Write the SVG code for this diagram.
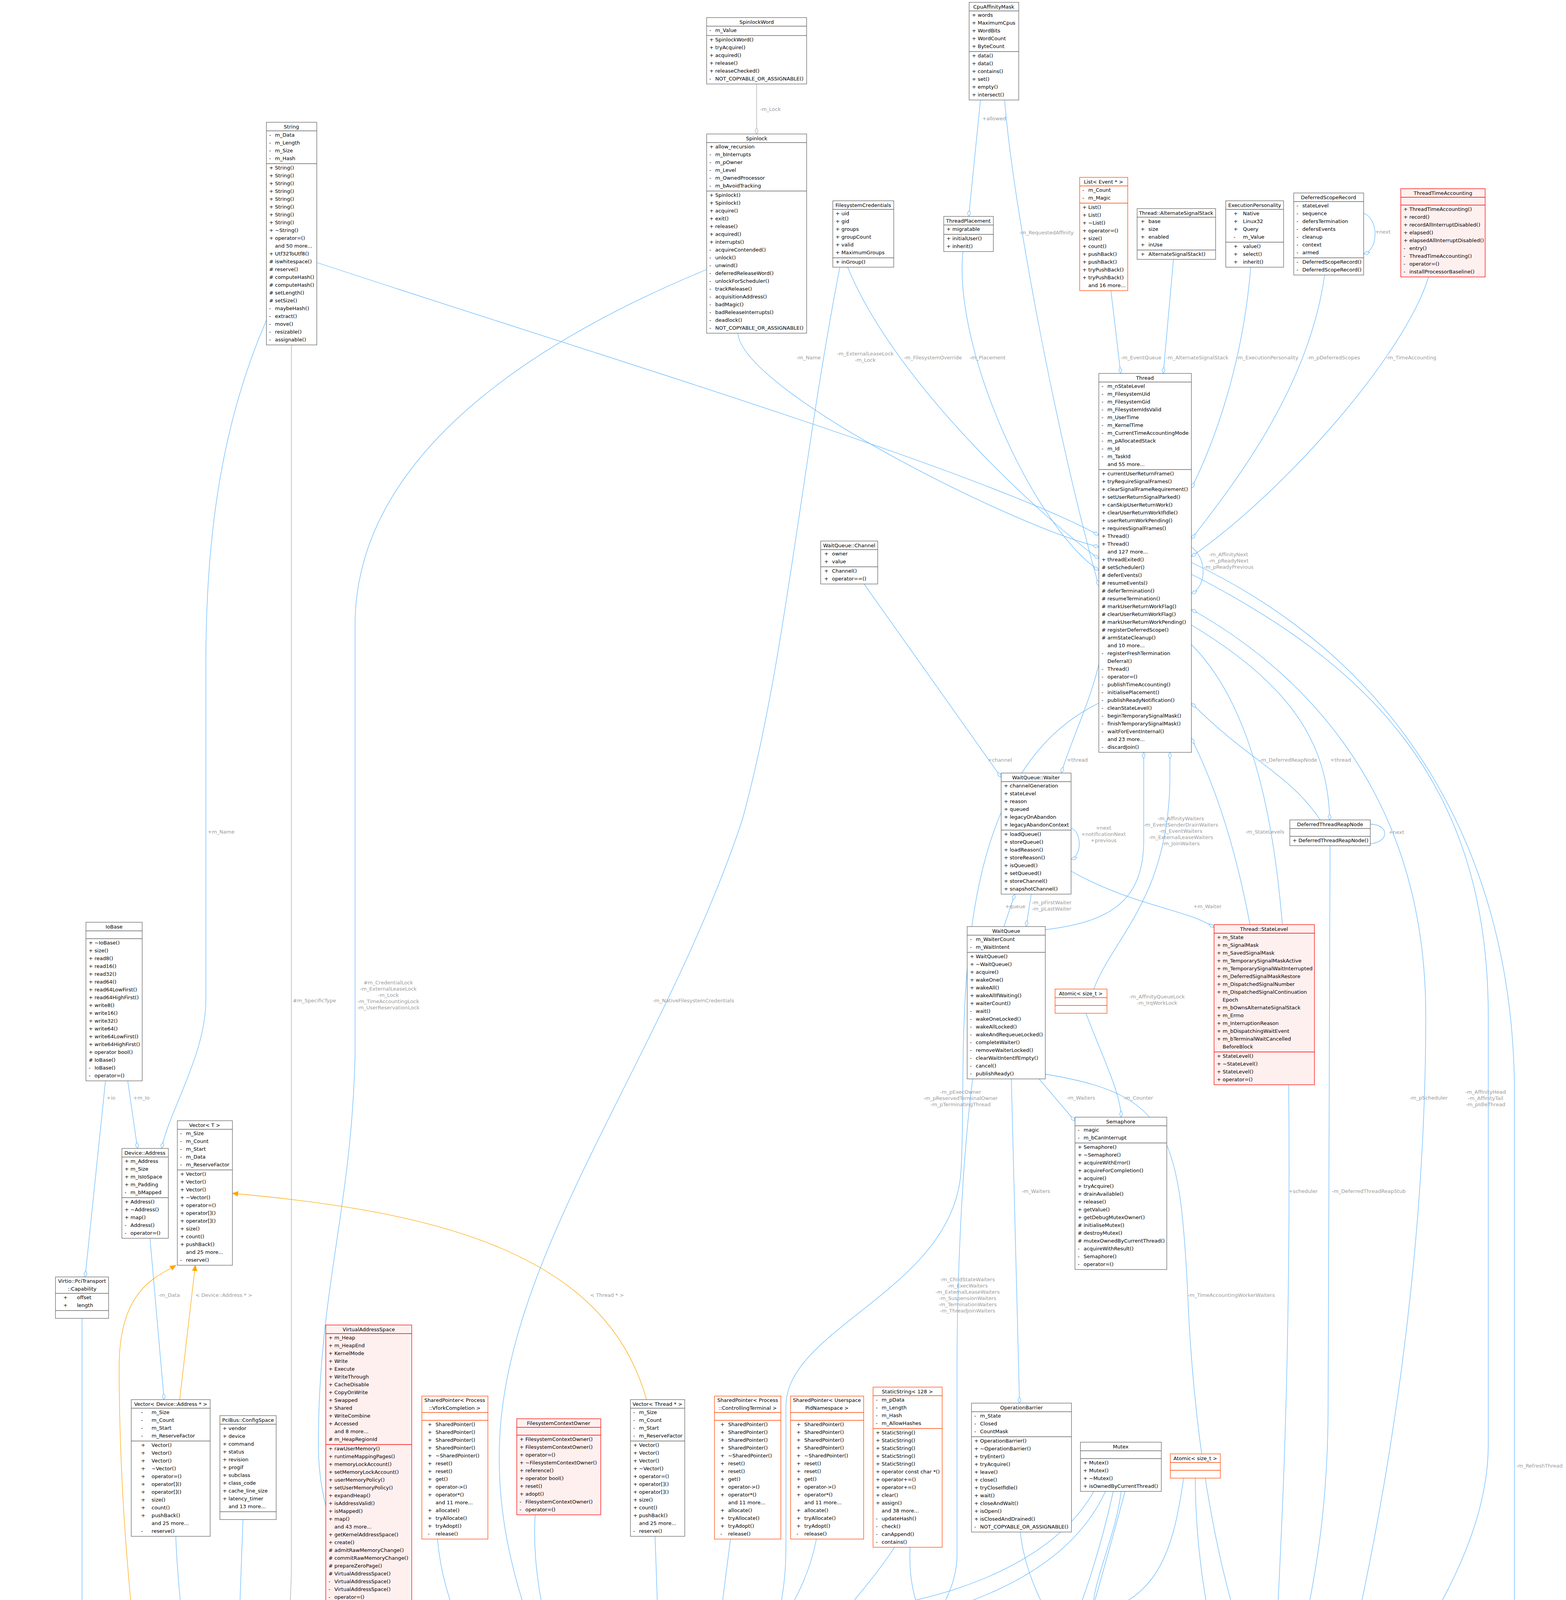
<svg xmlns="http://www.w3.org/2000/svg" width="4009" height="7372" viewBox="0 0 4009 7372">
<style>
text{font-family:"DejaVu Sans","Liberation Sans",sans-serif;font-size:13px;fill:#000}
.tt{text-anchor:middle}
.lb{fill:#9a9a9a;text-anchor:middle}
.n rect{fill:#fff;stroke:#666;stroke-width:1.3}.n path{stroke:#666;fill:none;stroke-width:1.3}
.r rect{fill:#fff0f0;stroke:#f00;stroke-width:1.3}.r path{stroke:#f00;fill:none;stroke-width:1.3}
.o rect{fill:#fff;stroke:#ff4500;stroke-width:1.3}.o path{stroke:#ff4500;fill:none;stroke-width:1.3}
.g rect{fill:#999;stroke:#666;stroke-width:1.3}.g path{stroke:#666;fill:none;stroke-width:1.3}
.e path{fill:none;stroke:#63b8ff;stroke-width:1.3;marker-end:url(#d)}
.e path.gr{stroke:#aaa;marker-end:url(#dg)}
.e path.in{marker-end:url(#t)}
.e path.or{stroke:#ffa500;marker-end:url(#oa)}
</style>
<defs>
<marker id="d" markerWidth="18" markerHeight="10" refX="17" refY="5" orient="auto" markerUnits="userSpaceOnUse"><path d="M1,5 L9,1 L17,5 L9,9 Z" fill="#fff" stroke="#63b8ff" stroke-width="1.2"/></marker>
<marker id="dg" markerWidth="18" markerHeight="10" refX="17" refY="5" orient="auto" markerUnits="userSpaceOnUse"><path d="M1,5 L9,1 L17,5 L9,9 Z" fill="#fff" stroke="#aaa" stroke-width="1.2"/></marker>
<marker id="t" markerWidth="16" markerHeight="14" refX="15" refY="7" orient="auto" markerUnits="userSpaceOnUse"><path d="M1,1 L15,7 L1,13 Z" fill="#fff" stroke="#63b8ff" stroke-width="1.2"/></marker>
<marker id="oa" markerWidth="16" markerHeight="14" refX="15" refY="7" orient="auto" markerUnits="userSpaceOnUse"><path d="M1,1 L15,7 L1,13 Z" fill="#ffa500" stroke="#ffa500" stroke-width="1.2"/></marker>
</defs>
<rect width="4009" height="7372" fill="#fff"/>

<g id="edges" class="e">
<path class="gr" d="M1937,215 L1937,343"/><text class="lb" x="1972" y="284">-m_Lock</text>
<path class="gr" d="M746,883 L746,4000 C746,4150 727,4200 727,4301"/><text class="lb" x="805" y="2566">#m_SpecificType</text>
<path d="M811,672 C1500,900 2500,1200 2813,1370"/><text class="lb" x="2070" y="920">-m_Name</text>
<path d="M682,820 C560,1100 527,1400 527,1700 L527,2560 C527,2700 430,2850 414,2940"/><text class="lb" x="566" y="2134">+m_Name</text>
<path d="M1809,690 C1300,900 909,1200 909,1600 L909,2700 C900,3100 815,3300 815,3700 C815,4200 1400,4550 1658,4690"/><text class="lb" x="994" y="2520"><tspan x="994" dy="0">#m_CredentialLock</tspan><tspan x="994" dy="16">-m_ExternalLeaseLock</tspan><tspan x="994" dy="16">-m_Lock</tspan><tspan x="994" dy="16">-m_TimeAccountingLock</tspan><tspan x="994" dy="16">-m_UserReservationLock</tspan></text>
<path d="M1889,853 C1900,1000 2600,1350 2813,1400"/><text class="lb" x="2215" y="910"><tspan x="2215">-m_ExternalLeaseLock</tspan><tspan x="2215" dy="16">-m_Lock</tspan></text>
<path d="M2170,684 C2300,1000 2700,1350 2813,1430"/><text class="lb" x="2388" y="920">-m_FilesystemOverride</text>
<path d="M2150,684 C2050,1200 2010,1700 1900,2100 C1700,2700 1300,3200 1279,3686 C1260,4100 1500,4500 1658,4650"/><text class="lb" x="1775" y="2566">-m_NativeFilesystemCredentials</text>
<path d="M2465,644 C2440,900 2650,1350 2813,1460"/><text class="lb" x="2528" y="920">-m_Placement</text>
<path d="M2510,256 L2480,554"/><text class="lb" x="2545" y="308">+allowed</text>
<path d="M2572,256 C2590,500 2700,1100 2813,1500"/><text class="lb" x="2679" y="600">-m_RequestedAffinity</text>
<path d="M2844,744 L2869,956"/><text class="lb" x="2921" y="920">-m_EventQueue</text>
<path d="M3004,664 L2978,956"/><text class="lb" x="3065" y="920">-m_AlternateSignalStack</text>
<path d="M3202,684 C3180,950 3100,1150 3050,1250"/><text class="lb" x="3244" y="920">-m_ExecutionPersonality</text>
<path d="M3391,704 C3350,1000 3150,1250 3050,1380"/><text class="lb" x="3414" y="920">-m_pDeferredScopes</text>
<path d="M3491,546 C3530,560 3530,640 3491,650"/><text class="lb" x="3540" y="598">+next</text>
<path d="M3657,709 C3600,900 3300,1250 3050,1425"/><text class="lb" x="3613" y="920">-m_TimeAccounting</text>
<path d="M3050,1400 C3090,1430 3090,1500 3050,1520"/><text class="lb" x="3145" y="1424"><tspan x="3145">-m_AffinityNext</tspan><tspan x="3145" dy="16">-m_pReadyNext</tspan><tspan x="3145" dy="16">-m_pReadyPrevious</tspan></text>
<path d="M2212,1495 L2563,1990"/><text class="lb" x="2560" y="1950">+channel</text>
<path d="M2813,1700 C2790,1800 2740,1900 2717,1979"/><text class="lb" x="2758" y="1950">+thread</text>
<path d="M3050,1600 C3300,1750 3400,1900 3404,2099"/><text class="lb" x="3432" y="1950">+thread</text>
<path d="M3380,2099 C3300,1980 3200,1950 3050,1800"/><text class="lb" x="3298" y="1950">-m_DeferredReapNode</text>
<path d="M3508,2110 C3560,2110 3560,2165 3490,2160"/><text class="lb" x="3575" y="2135">+next</text>
<path d="M2742,2120 C2770,2130 2770,2190 2742,2200"/><text class="lb" x="2825" y="2124"><tspan x="2825">+next</tspan><tspan x="2825" dy="16">+notificationNext</tspan><tspan x="2825" dy="16">+previous</tspan></text>
<path d="M2570,2372 L2598,2289"/><text class="lb" x="2599" y="2325">+queue</text>
<path d="M2640,2289 L2627,2372"/><text class="lb" x="2692" y="2315"><tspan x="2692">-m_pFirstWaiter</tspan><tspan x="2692" dy="16">-m_pLastWaiter</tspan></text>
<path d="M2676,2380 C2850,2360 2928,2300 2928,2150 L2928,1926"/><text class="lb" x="3023" y="2100"><tspan x="3023">-m_AffinityWaiters</tspan><tspan x="3023" dy="16">-m_EventSenderDrainWaiters</tspan><tspan x="3023" dy="16">-m_EventWaiters</tspan><tspan x="3023" dy="16">-m_ExternalLeaseWaiters</tspan><tspan x="3023" dy="16">-m_JoinWaiters</tspan></text>
<path d="M3200,2367 C3150,2100 3080,1950 3050,1890"/><text class="lb" x="3238" y="2134">-m_StateLevels</text>
<path d="M2742,2230 C2900,2320 3050,2330 3108,2375"/><text class="lb" x="3091" y="2325">+m_Waiter</text>
<path d="M2800,2532 C2850,2400 2990,2300 2995,2000 L2995,1926"/><text class="lb" x="2962" y="2556"><tspan x="2962">-m_AffinityQueueLock</tspan><tspan x="2962" dy="16">-m_IrqWorkLock</tspan></text>
<path d="M2660,2762 L2752,2870"/><text class="lb" x="2767" y="2815">-m_Waiters</text>
<path d="M2780,2594 C2820,2700 2870,2800 2870,2860"/><text class="lb" x="2914" y="2815">-m_Counter</text>
<path d="M2813,1800 C2400,2000 2480,2700 2460,3000 C2440,3300 2012,3400 2012,3600 L2012,3960 C2012,4150 1950,4280 1915,4320"/><text class="lb" x="2459" y="2800"><tspan x="2459">-m_pExecOwner</tspan><tspan x="2459" dy="16">-m_pReservedTerminalOwner</tspan><tspan x="2459" dy="16">-m_pTerminatingThread</tspan></text>
<path d="M2589,2762 L2610,3592"/><text class="lb" x="2652" y="3054">-m_Waiters</text>
<path d="M3050,1650 C3300,1900 3300,2500 3300,3000 C3300,3700 3270,4100 3262,4305"/><text class="lb" x="3336" y="3054">+scheduler</text>
<path d="M3405,2165 L3400,3600 C3400,4000 3320,4200 3315,4305"/><text class="lb" x="3504" y="3054">-m_DeferredThreadReapStub</text>
<path d="M3440,4305 C3560,3800 3650,3200 3650,2600 C3650,2000 3300,1700 3050,1560"/><text class="lb" x="3657" y="2815">-m_pScheduler</text>
<path d="M3050,1470 C3500,1700 3810,2000 3810,2600 L3810,3700 C3810,4000 3560,4300 3482,4420"/><text class="lb" x="3803" y="2800"><tspan x="3803">-m_AffinityHead</tspan><tspan x="3803" dy="16">-m_AffinityTail</tspan><tspan x="3803" dy="16">-m_pIdleThread</tspan></text>
<path d="M2490,2762 C2460,3000 2450,3300 2450,3500 L2450,3980 C2450,4200 2100,4450 1915,4560"/><text class="lb" x="2477" y="3280"><tspan x="2477">-m_ChildStateWaiters</tspan><tspan x="2477" dy="16">-m_ExecWaiters</tspan><tspan x="2477" dy="16">-m_ExternalLeaseWaiters</tspan><tspan x="2477" dy="16">-m_SuspensionWaiters</tspan><tspan x="2477" dy="16">-m_TerminationWaiters</tspan><tspan x="2477" dy="16">-m_ThreadJoinWaiters</tspan></text>
<path d="M2676,2750 C2990,2800 3020,2900 3040,3300 C3060,3800 3150,4150 3225,4305"/><text class="lb" x="3152" y="3320">-m_TimeAccountingWorkerWaiters</text>
<path d="M270,2767 L218,3269"/><text class="lb" x="284" y="2815">+io</text>
<path d="M327,2767 L352,2940"/><text class="lb" x="362" y="2815">+m_Io</text>
<path d="M384,3170 L420,3583"/><text class="lb" x="433" y="3320">-m_Data</text>
<path class="or" d="M460,3583 L500,3239"/><text class="lb" x="573" y="3320">&lt; Device::Address * &gt;</text>
<path class="or" d="M1655,3583 C1550,3200 1100,3100 595,3055"/><text class="lb" x="1554" y="3320">&lt; Thread * &gt;</text>
<path class="or" d="M517,5515 C480,5000 305,4300 305,3500 C305,3300 400,3270 450,3239"/><text class="lb" x="378" y="4187">&lt; Device * &gt;</text>
<path d="M1677,3933 L1688,4254"/><text class="lb" x="1731" y="4187">-m_Threads</text>
<path d="M1870,3940 L1830,4254"/><text class="lb" x="1864" y="4187">-m_Ctty</text>
<path d="M2090,3940 C2060,4100 1950,4230 1900,4254"/><text class="lb" x="1995" y="4170">-m_UserspacePidNamespace</text>
<path d="M2800,3818 C2700,4000 2400,4133 2000,4133 L1700,4133 C1650,4150 1650,4200 1655,4254"/><text class="lb" x="1620" y="4187">#m_TreeLock</text>
<path d="M2830,3818 C2700,4100 2300,4150 2100,4200 C2000,4230 1950,4300 1915,4340"/><text class="lb" x="2522" y="4187">-m_FilesystemContextLock</text>
<path d="M2870,3818 C2850,4000 2700,4200 2900,4220 C3100,4240 3180,4500 3219,4580"/><text class="lb" x="2826" y="4187">-m_NewThreadDataLock</text>
<path d="M2850,3818 C2700,4500 2300,4900 2100,5100 C2050,5200 2040,5350 2040,5466"/><text class="lb" x="2064" y="5226">-m_Lock</text>
<path d="M2880,3818 C2700,4500 2500,5000 2500,5600 C2500,6200 2420,6700 2385,6900"/><text class="lb" x="2547" y="5691">-m_CommandLock</text>
<path d="M920,4122 C1100,4400 1500,4600 1658,4670"/><text class="lb" x="1029" y="4168"><tspan x="1029">-m_pAddressSpace</tspan><tspan x="1029" dy="16">-m_pVforkPrivateAddress</tspan><tspan x="1029" dy="16">Space</tspan></text>
<path d="M1120,3940 C1150,4300 1500,4650 1658,4700"/><text class="lb" x="1216" y="4187">-m_VforkCompletion</text>
<path d="M1370,3878 C1350,4200 1550,4600 1658,4730"/><text class="lb" x="1426" y="4187">-m_FilesystemContext</text>
<path d="M450,3933 C460,4200 520,4500 550,4520"/><text class="lb" x="550" y="4187">#m_Addresses</text>
<path d="M622,3890 L607,4301"/><text class="lb" x="669" y="4187">#m_ConfigHeader</text>
<path d="M210,3375 L210,4500 C212,5000 280,5300 288,5396"/><text class="lb" x="266" y="4170"><tspan x="266">-m_Common</tspan><tspan x="266" dy="16">-m_DeviceConfig</tspan><tspan x="266" dy="16">-m_Isr</tspan><tspan x="266" dy="16">-m_Notify</tspan></text>
<path d="M804,4750 C840,4770 840,4880 804,4900"/><text class="lb" x="870" y="4716"><tspan x="870">#m_Root</tspan><tspan x="870" dy="16">#m_pParent</tspan></text>
<path class="in" d="M2283,5556 C2283,5350 2150,5220 1950,5210 C1600,5200 1100,5000 804,4820"/>
<path d="M80,4818 C90,5200 200,5450 231,5560"/><text class="lb" x="150" y="5226">-m_Original</text>
<path d="M550,5000 C500,5200 450,5350 400,5420"/><text class="lb" x="518" y="5226">-m_Device</text>
<path d="M555,5515 C560,5350 567,5250 567,5171"/><text class="lb" x="606" y="5226">#m_Children</text>
<path d="M656,5171 C650,5300 605,5450 598,5515"/><text class="lb" x="684" y="5226">-m_Data</text>
<path d="M380,5986 C450,6100 600,6180 800,6200 C1200,6250 1600,6400 1797,6460"/><text class="lb" x="904" y="6170">-m_Transport</text>
<path d="M1797,6490 C1400,6420 700,6350 500,6200 C430,6130 390,6050 383,5986"/><text class="lb" x="611" y="6170">-m_Queues</text>
<path d="M375,5986 C600,6500 1200,6900 2197,7110"/><text class="lb" x="1335" y="6478">-m_Transport</text>
<path d="M1990,5916 L1912,6214"/><text class="lb" x="1975" y="6150"><tspan x="1975">-m_Available</tspan><tspan x="1975" dy="16">-m_Descriptor</tspan><tspan x="1975" dy="16">-m_Used</tspan></text>
<path d="M1885,6744 C1920,6900 2100,7000 2197,7066"/><text class="lb" x="1990" y="6772">-m_ControlQueue</text>
<path d="M2040,5916 L2045,6600 C2060,6800 2150,6930 2197,6980"/><text class="lb" x="2110" y="6460"><tspan x="2110">-m_Backing</tspan><tspan x="2110" dy="16">-m_Commands</tspan><tspan x="2110" dy="16">-m_Pixels</tspan></text>
<path d="M2267,4788 L2267,5556"/><text class="lb" x="2303" y="5226">+PACKED</text>
<path d="M2728,4808 L2728,5256"/><text class="lb" x="2787" y="5226">-m_StoredMode</text>
<path d="M2809,5600 C2840,5620 2840,5700 2809,5710"/><text class="lb" x="2876" y="5691">+m_pParent</text>
<path d="M2650,6080 C2600,6150 2500,6250 2437,6367"/><text class="lb" x="2659" y="6170">+pFramebuffer</text>
<path d="M2260,5822 C2270,6100 2290,6300 2314,6367"/><text class="lb" x="2311" y="6170">+pDisplay</text>
<path class="in" d="M2706,6405 L2711,6126"/>
<path class="in" d="M2250,6801 C2240,6400 2256,6000 2256,5822"/>
<path d="M804,4660 C1200,4400 1900,4200 2050,4400 C2150,4600 2170,5000 2170,5500 C2180,6200 2230,6600 2240,6801"/><text class="lb" x="2215" y="6170">-m_Pci</text>
<path d="M2340,6593 L2318,6801"/><text class="lb" x="2368" y="6772">-m_Provider</text>
<path d="M2660,6551 C2550,6700 2450,6850 2385,6950"/><text class="lb" x="2579" y="6772">-m_Framebuffer</text>
<path d="M2385,7040 C2600,6900 2707,6700 2707,6551"/><text class="lb" x="2701" y="6772">-m_Gpu</text>
<path d="M2612,3922 C2650,4300 3200,4600 3200,5300 C3150,5900 2850,6250 2772,6405"/><text class="lb" x="3203" y="5226">-m_Callbacks</text>
<path d="M3050,1440 C3600,1700 3877,2200 3877,2800 L3877,6500 C3877,6800 2800,7000 2385,7108"/><text class="lb" x="3941" y="3757">-m_RefreshThread</text>
<path d="M3030,3784 C3000,4000 2950,4140 2700,4140 L2100,4140 C1980,4140 1940,4260 1915,4290"/><text class="lb" x="2991" y="4187">-m_NextTid</text>
<path d="M3060,3784 C3060,4100 3150,4400 3219,4520"/><text class="lb" x="3164" y="4150"><tspan x="3164">-m_AffinityRequests</tspan><tspan x="3164" dy="16">-m_DeferredThreadReapPublication</tspan><tspan x="3164" dy="16">State</tspan><tspan x="3164" dy="16">-m_IrqWorkDoorbell</tspan><tspan x="3164" dy="16">-m_StopTimeAccountingWorker</tspan><tspan x="3164" dy="16">-m_nDeferredThreadReaps</tspan></text>
<path d="M2290,3961 C2200,4100 2000,4300 1915,4400"/><text class="lb" x="2142" y="4187">-str</text>
<path d="M2330,3961 C2320,4150 2400,4400 3219,4600"/><text class="lb" x="2308" y="4175"><tspan x="2308">-m_DeferredThreadReaps</tspan><tspan x="2308" dy="16">-m_TimeAccountingReports</tspan></text>
</g>

<g id="n-SpinlockWord" class="n"><rect x="1809" y="45" width="256" height="170"/><path d="M1809,67h256M1809,91h256"/><text class="tt" x="1937" y="61">SpinlockWord</text>
<text y="62"><tspan x="1816" dy="20">-</tspan><tspan x="1831">m_Value</tspan></text>
<text y="86"><tspan x="1816" dy="20">+</tspan><tspan x="1831">SpinlockWord()</tspan><tspan x="1816" dy="20">+</tspan><tspan x="1831">tryAcquire()</tspan><tspan x="1816" dy="20">+</tspan><tspan x="1831">acquired()</tspan><tspan x="1816" dy="20">+</tspan><tspan x="1831">release()</tspan><tspan x="1816" dy="20">+</tspan><tspan x="1831">releaseChecked()</tspan><tspan x="1816" dy="20">-</tspan><tspan x="1831">NOT_COPYABLE_OR_ASSIGNABLE()</tspan></text></g>

<g id="n-Spinlock" class="n"><rect x="1809" y="343" width="256" height="510"/><path d="M1809,365h256M1809,489h256"/><text class="tt" x="1937" y="359">Spinlock</text>
<text y="360"><tspan x="1816" dy="20">+</tspan><tspan x="1831">allow_recursion</tspan><tspan x="1816" dy="20">-</tspan><tspan x="1831">m_bInterrupts</tspan><tspan x="1816" dy="20">-</tspan><tspan x="1831">m_pOwner</tspan><tspan x="1816" dy="20">-</tspan><tspan x="1831">m_Level</tspan><tspan x="1816" dy="20">-</tspan><tspan x="1831">m_OwnedProcessor</tspan><tspan x="1816" dy="20">-</tspan><tspan x="1831">m_bAvoidTracking</tspan></text>
<text y="484"><tspan x="1816" dy="20">+</tspan><tspan x="1831">Spinlock()</tspan><tspan x="1816" dy="20">+</tspan><tspan x="1831">Spinlock()</tspan><tspan x="1816" dy="20">+</tspan><tspan x="1831">acquire()</tspan><tspan x="1816" dy="20">+</tspan><tspan x="1831">exit()</tspan><tspan x="1816" dy="20">+</tspan><tspan x="1831">release()</tspan><tspan x="1816" dy="20">+</tspan><tspan x="1831">acquired()</tspan><tspan x="1816" dy="20">+</tspan><tspan x="1831">interrupts()</tspan><tspan x="1816" dy="20">-</tspan><tspan x="1831">acquireContended()</tspan><tspan x="1816" dy="20">-</tspan><tspan x="1831">unlock()</tspan><tspan x="1816" dy="20">-</tspan><tspan x="1831">unwind()</tspan><tspan x="1816" dy="20">-</tspan><tspan x="1831">deferredReleaseWord()</tspan><tspan x="1816" dy="20">-</tspan><tspan x="1831">unlockForScheduler()</tspan><tspan x="1816" dy="20">-</tspan><tspan x="1831">trackRelease()</tspan><tspan x="1816" dy="20">-</tspan><tspan x="1831">acquisitionAddress()</tspan><tspan x="1816" dy="20">-</tspan><tspan x="1831">badMagic()</tspan><tspan x="1816" dy="20">-</tspan><tspan x="1831">badReleaseInterrupts()</tspan><tspan x="1816" dy="20">-</tspan><tspan x="1831">deadlock()</tspan><tspan x="1816" dy="20">-</tspan><tspan x="1831">NOT_COPYABLE_OR_ASSIGNABLE()</tspan></text></g>

<g id="n-String" class="n"><rect x="682" y="313" width="129" height="570"/><path d="M682,335h129M682,419h129"/><text class="tt" x="746" y="329">String</text>
<text y="330"><tspan x="689" dy="20">-</tspan><tspan x="704">m_Data</tspan><tspan x="689" dy="20">-</tspan><tspan x="704">m_Length</tspan><tspan x="689" dy="20">-</tspan><tspan x="704">m_Size</tspan><tspan x="689" dy="20">-</tspan><tspan x="704">m_Hash</tspan></text>
<text y="414"><tspan x="689" dy="20">+</tspan><tspan x="704">String()</tspan><tspan x="689" dy="20">+</tspan><tspan x="704">String()</tspan><tspan x="689" dy="20">+</tspan><tspan x="704">String()</tspan><tspan x="689" dy="20">+</tspan><tspan x="704">String()</tspan><tspan x="689" dy="20">+</tspan><tspan x="704">String()</tspan><tspan x="689" dy="20">+</tspan><tspan x="704">String()</tspan><tspan x="689" dy="20">+</tspan><tspan x="704">String()</tspan><tspan x="689" dy="20">+</tspan><tspan x="704">String()</tspan><tspan x="689" dy="20">+</tspan><tspan x="704">~String()</tspan><tspan x="689" dy="20">+</tspan><tspan x="704">operator=()</tspan><tspan x="704" dy="20">and 50 more...</tspan><tspan x="689" dy="20">+</tspan><tspan x="704">Utf32ToUtf8()</tspan><tspan x="689" dy="20">#</tspan><tspan x="704">iswhitespace()</tspan><tspan x="689" dy="20">#</tspan><tspan x="704">reserve()</tspan><tspan x="689" dy="20">#</tspan><tspan x="704">computeHash()</tspan><tspan x="689" dy="20">#</tspan><tspan x="704">computeHash()</tspan><tspan x="689" dy="20">#</tspan><tspan x="704">setLength()</tspan><tspan x="689" dy="20">#</tspan><tspan x="704">setSize()</tspan><tspan x="689" dy="20">-</tspan><tspan x="704">maybeHash()</tspan><tspan x="689" dy="20">-</tspan><tspan x="704">extract()</tspan><tspan x="689" dy="20">-</tspan><tspan x="704">move()</tspan><tspan x="689" dy="20">-</tspan><tspan x="704">resizable()</tspan><tspan x="689" dy="20">-</tspan><tspan x="704">assignable()</tspan></text></g>

<g id="n-CpuAffinityMask" class="n"><rect x="2481" y="6" width="127" height="250"/><path d="M2481,28h127M2481,132h127"/><text class="tt" x="2544" y="22">CpuAffinityMask</text>
<text y="23"><tspan x="2488" dy="20">+</tspan><tspan x="2503">words</tspan><tspan x="2488" dy="20">+</tspan><tspan x="2503">MaximumCpus</tspan><tspan x="2488" dy="20">+</tspan><tspan x="2503">WordBits</tspan><tspan x="2488" dy="20">+</tspan><tspan x="2503">WordCount</tspan><tspan x="2488" dy="20">+</tspan><tspan x="2503">ByteCount</tspan></text>
<text y="127"><tspan x="2488" dy="20">+</tspan><tspan x="2503">data()</tspan><tspan x="2488" dy="20">+</tspan><tspan x="2503">data()</tspan><tspan x="2488" dy="20">+</tspan><tspan x="2503">contains()</tspan><tspan x="2488" dy="20">+</tspan><tspan x="2503">set()</tspan><tspan x="2488" dy="20">+</tspan><tspan x="2503">empty()</tspan><tspan x="2488" dy="20">+</tspan><tspan x="2503">intersect()</tspan></text></g>

<g id="n-FilesystemCredentials" class="n"><rect x="2132" y="514" width="156" height="170"/><path d="M2132,536h156M2132,660h156"/><text class="tt" x="2210" y="530">FilesystemCredentials</text>
<text y="531"><tspan x="2139" dy="20">+</tspan><tspan x="2154">uid</tspan><tspan x="2139" dy="20">+</tspan><tspan x="2154">gid</tspan><tspan x="2139" dy="20">+</tspan><tspan x="2154">groups</tspan><tspan x="2139" dy="20">+</tspan><tspan x="2154">groupCount</tspan><tspan x="2139" dy="20">+</tspan><tspan x="2154">valid</tspan><tspan x="2139" dy="20">+</tspan><tspan x="2154">MaximumGroups</tspan></text>
<text y="655"><tspan x="2139" dy="20">+</tspan><tspan x="2154">inGroup()</tspan></text></g>

<g id="n-ThreadPlacement" class="n"><rect x="2416" y="554" width="127" height="90"/><path d="M2416,576h127M2416,600h127"/><text class="tt" x="2479" y="570">ThreadPlacement</text>
<text y="571"><tspan x="2423" dy="20">+</tspan><tspan x="2438">migratable</tspan></text>
<text y="595"><tspan x="2423" dy="20">+</tspan><tspan x="2438">initialUser()</tspan><tspan x="2423" dy="20">+</tspan><tspan x="2438">inherit()</tspan></text></g>

<g id="n-ListEvent" class="o"><rect x="2764" y="454" width="123" height="290"/><path d="M2764,476h123M2764,520h123"/><text class="tt" x="2825" y="470">List&lt; Event * &gt;</text>
<text y="471"><tspan x="2771" dy="20">-</tspan><tspan x="2786">m_Count</tspan><tspan x="2771" dy="20">-</tspan><tspan x="2786">m_Magic</tspan></text>
<text y="515"><tspan x="2771" dy="20">+</tspan><tspan x="2786">List()</tspan><tspan x="2771" dy="20">+</tspan><tspan x="2786">List()</tspan><tspan x="2771" dy="20">+</tspan><tspan x="2786">~List()</tspan><tspan x="2771" dy="20">+</tspan><tspan x="2786">operator=()</tspan><tspan x="2771" dy="20">+</tspan><tspan x="2786">size()</tspan><tspan x="2771" dy="20">+</tspan><tspan x="2786">count()</tspan><tspan x="2771" dy="20">+</tspan><tspan x="2786">pushBack()</tspan><tspan x="2771" dy="20">+</tspan><tspan x="2786">pushBack()</tspan><tspan x="2771" dy="20">+</tspan><tspan x="2786">tryPushBack()</tspan><tspan x="2771" dy="20">+</tspan><tspan x="2786">tryPushBack()</tspan><tspan x="2786" dy="20">and 16 more...</tspan></text></g>

<g id="n-AlternateSignalStack" class="n"><rect x="2911" y="534" width="201" height="130"/><path d="M2911,556h201M2911,640h201"/><text class="tt" x="3011" y="550">Thread::AlternateSignalStack</text>
<text y="551"><tspan x="2920" dy="20">+</tspan><tspan x="2940">base</tspan><tspan x="2920" dy="20">+</tspan><tspan x="2940">size</tspan><tspan x="2920" dy="20">+</tspan><tspan x="2940">enabled</tspan><tspan x="2920" dy="20">+</tspan><tspan x="2940">inUse</tspan></text>
<text y="635"><tspan x="2920" dy="20">+</tspan><tspan x="2940">AlternateSignalStack()</tspan></text></g>

<g id="n-ExecutionPersonality" class="n"><rect x="3138" y="514" width="148" height="170"/><path d="M3138,536h148M3138,620h148"/><text class="tt" x="3212" y="530">ExecutionPersonality</text>
<text y="531"><tspan x="3158" dy="20">+</tspan><tspan x="3182">Native</tspan><tspan x="3158" dy="20">+</tspan><tspan x="3182">Linux32</tspan><tspan x="3158" dy="20">+</tspan><tspan x="3182">Query</tspan><tspan x="3158" dy="20">-</tspan><tspan x="3182">m_Value</tspan></text>
<text y="615"><tspan x="3158" dy="20">+</tspan><tspan x="3182">value()</tspan><tspan x="3158" dy="20">+</tspan><tspan x="3182">select()</tspan><tspan x="3158" dy="20">+</tspan><tspan x="3182">inherit()</tspan></text></g>

<g id="n-DeferredScopeRecord" class="n"><rect x="3312" y="494" width="179" height="210"/><path d="M3312,516h179M3312,660h179"/><text class="tt" x="3401" y="510">DeferredScopeRecord</text>
<text y="511"><tspan x="3319" dy="20">-</tspan><tspan x="3334">stateLevel</tspan><tspan x="3319" dy="20">-</tspan><tspan x="3334">sequence</tspan><tspan x="3319" dy="20">-</tspan><tspan x="3334">defersTermination</tspan><tspan x="3319" dy="20">-</tspan><tspan x="3334">defersEvents</tspan><tspan x="3319" dy="20">-</tspan><tspan x="3334">cleanup</tspan><tspan x="3319" dy="20">-</tspan><tspan x="3334">context</tspan><tspan x="3319" dy="20">-</tspan><tspan x="3334">armed</tspan></text>
<text y="655"><tspan x="3319" dy="20">-</tspan><tspan x="3334">DeferredScopeRecord()</tspan><tspan x="3319" dy="20">-</tspan><tspan x="3334">DeferredScopeRecord()</tspan></text></g>

<g id="n-ThreadTimeAccounting" class="r"><rect x="3586" y="483" width="216" height="226"/><path d="M3586,505h216M3586,525h216"/><text class="tt" x="3694" y="499">ThreadTimeAccounting</text>
<text y="520"><tspan x="3593" dy="20">+</tspan><tspan x="3608">ThreadTimeAccounting()</tspan><tspan x="3593" dy="20">+</tspan><tspan x="3608">record()</tspan><tspan x="3593" dy="20">+</tspan><tspan x="3608">recordAllInterruptDisabled()</tspan><tspan x="3593" dy="20">+</tspan><tspan x="3608">elapsed()</tspan><tspan x="3593" dy="20">+</tspan><tspan x="3608">elapsedAllInterruptDisabled()</tspan><tspan x="3593" dy="20">-</tspan><tspan x="3608">entry()</tspan><tspan x="3593" dy="20">-</tspan><tspan x="3608">ThreadTimeAccounting()</tspan><tspan x="3593" dy="20">-</tspan><tspan x="3608">operator=()</tspan><tspan x="3593" dy="20">-</tspan><tspan x="3608">installProcessorBaseline()</tspan></text></g>

<g id="n-WaitQueueChannel" class="n"><rect x="2101" y="1385" width="146" height="110"/><path d="M2101,1407h146M2101,1451h146"/><text class="tt" x="2174" y="1401">WaitQueue::Channel</text>
<text y="1402"><tspan x="2110" dy="20">+</tspan><tspan x="2130">owner</tspan><tspan x="2110" dy="20">+</tspan><tspan x="2130">value</tspan></text>
<text y="1446"><tspan x="2110" dy="20">+</tspan><tspan x="2130">Channel()</tspan><tspan x="2110" dy="20">+</tspan><tspan x="2130">operator==()</tspan></text></g>

<g id="n-Thread" class="n"><rect x="2813" y="956" width="237" height="970"/><path d="M2813,978h237M2813,1202h237"/><text class="tt" x="2931" y="972">Thread</text>
<text y="973"><tspan x="2820" dy="20">-</tspan><tspan x="2835">m_nStateLevel</tspan><tspan x="2820" dy="20">-</tspan><tspan x="2835">m_FilesystemUid</tspan><tspan x="2820" dy="20">-</tspan><tspan x="2835">m_FilesystemGid</tspan><tspan x="2820" dy="20">-</tspan><tspan x="2835">m_FilesystemIdsValid</tspan><tspan x="2820" dy="20">-</tspan><tspan x="2835">m_UserTime</tspan><tspan x="2820" dy="20">-</tspan><tspan x="2835">m_KernelTime</tspan><tspan x="2820" dy="20">-</tspan><tspan x="2835">m_CurrentTimeAccountingMode</tspan><tspan x="2820" dy="20">-</tspan><tspan x="2835">m_pAllocatedStack</tspan><tspan x="2820" dy="20">-</tspan><tspan x="2835">m_Id</tspan><tspan x="2820" dy="20">-</tspan><tspan x="2835">m_TaskId</tspan><tspan x="2835" dy="20">and 55 more...</tspan></text>
<text y="1197"><tspan x="2820" dy="20">+</tspan><tspan x="2835">currentUserReturnFrame()</tspan><tspan x="2820" dy="20">+</tspan><tspan x="2835">tryRequireSignalFrames()</tspan><tspan x="2820" dy="20">+</tspan><tspan x="2835">clearSignalFrameRequirement()</tspan><tspan x="2820" dy="20">+</tspan><tspan x="2835">setUserReturnSignalParked()</tspan><tspan x="2820" dy="20">+</tspan><tspan x="2835">canSkipUserReturnWork()</tspan><tspan x="2820" dy="20">+</tspan><tspan x="2835">clearUserReturnWorkIfIdle()</tspan><tspan x="2820" dy="20">+</tspan><tspan x="2835">userReturnWorkPending()</tspan><tspan x="2820" dy="20">+</tspan><tspan x="2835">requiresSignalFrames()</tspan><tspan x="2820" dy="20">+</tspan><tspan x="2835">Thread()</tspan><tspan x="2820" dy="20">+</tspan><tspan x="2835">Thread()</tspan><tspan x="2835" dy="20">and 127 more...</tspan><tspan x="2820" dy="20">+</tspan><tspan x="2835">threadExited()</tspan><tspan x="2820" dy="20">#</tspan><tspan x="2835">setScheduler()</tspan><tspan x="2820" dy="20">#</tspan><tspan x="2835">deferEvents()</tspan><tspan x="2820" dy="20">#</tspan><tspan x="2835">resumeEvents()</tspan><tspan x="2820" dy="20">#</tspan><tspan x="2835">deferTermination()</tspan><tspan x="2820" dy="20">#</tspan><tspan x="2835">resumeTermination()</tspan><tspan x="2820" dy="20">#</tspan><tspan x="2835">markUserReturnWorkFlag()</tspan><tspan x="2820" dy="20">#</tspan><tspan x="2835">clearUserReturnWorkFlag()</tspan><tspan x="2820" dy="20">#</tspan><tspan x="2835">markUserReturnWorkPending()</tspan><tspan x="2820" dy="20">#</tspan><tspan x="2835">registerDeferredScope()</tspan><tspan x="2820" dy="20">#</tspan><tspan x="2835">armStateCleanup()</tspan><tspan x="2835" dy="20">and 10 more...</tspan><tspan x="2820" dy="20">-</tspan><tspan x="2835">registerFreshTermination</tspan><tspan x="2835" dy="20">Deferral()</tspan><tspan x="2820" dy="20">-</tspan><tspan x="2835">Thread()</tspan><tspan x="2820" dy="20">-</tspan><tspan x="2835">operator=()</tspan><tspan x="2820" dy="20">-</tspan><tspan x="2835">publishTimeAccounting()</tspan><tspan x="2820" dy="20">-</tspan><tspan x="2835">initialisePlacement()</tspan><tspan x="2820" dy="20">-</tspan><tspan x="2835">publishReadyNotification()</tspan><tspan x="2820" dy="20">-</tspan><tspan x="2835">cleanStateLevel()</tspan><tspan x="2820" dy="20">-</tspan><tspan x="2835">beginTemporarySignalMask()</tspan><tspan x="2820" dy="20">-</tspan><tspan x="2835">finishTemporarySignalMask()</tspan><tspan x="2820" dy="20">-</tspan><tspan x="2835">waitForEventInternal()</tspan><tspan x="2835" dy="20">and 23 more...</tspan><tspan x="2820" dy="20">-</tspan><tspan x="2835">discardJoin()</tspan></text></g>

<g id="n-DeferredThreadReapNode" class="n"><rect x="3302" y="2099" width="206" height="66"/><path d="M3302,2121h206M3302,2141h206"/><text class="tt" x="3405" y="2115">DeferredThreadReapNode</text>
<text y="2136"><tspan x="3309" dy="20">+</tspan><tspan x="3324">DeferredThreadReapNode()</tspan></text></g>

<g id="n-WaitQueueWaiter" class="n"><rect x="2563" y="1979" width="179" height="310"/><path d="M2563,2001h179M2563,2125h179"/><text class="tt" x="2652" y="1995">WaitQueue::Waiter</text>
<text y="1996"><tspan x="2570" dy="20">+</tspan><tspan x="2585">channelGeneration</tspan><tspan x="2570" dy="20">+</tspan><tspan x="2585">stateLevel</tspan><tspan x="2570" dy="20">+</tspan><tspan x="2585">reason</tspan><tspan x="2570" dy="20">+</tspan><tspan x="2585">queued</tspan><tspan x="2570" dy="20">+</tspan><tspan x="2585">legacyOnAbandon</tspan><tspan x="2570" dy="20">+</tspan><tspan x="2585">legacyAbandonContext</tspan></text>
<text y="2120"><tspan x="2570" dy="20">+</tspan><tspan x="2585">loadQueue()</tspan><tspan x="2570" dy="20">+</tspan><tspan x="2585">storeQueue()</tspan><tspan x="2570" dy="20">+</tspan><tspan x="2585">loadReason()</tspan><tspan x="2570" dy="20">+</tspan><tspan x="2585">storeReason()</tspan><tspan x="2570" dy="20">+</tspan><tspan x="2585">isQueued()</tspan><tspan x="2570" dy="20">+</tspan><tspan x="2585">setQueued()</tspan><tspan x="2570" dy="20">+</tspan><tspan x="2585">storeChannel()</tspan><tspan x="2570" dy="20">+</tspan><tspan x="2585">snapshotChannel()</tspan></text></g>

<g id="n-WaitQueue" class="n"><rect x="2476" y="2372" width="200" height="390"/><path d="M2476,2394h200M2476,2438h200"/><text class="tt" x="2576" y="2388">WaitQueue</text>
<text y="2389"><tspan x="2483" dy="20">-</tspan><tspan x="2498">m_WaiterCount</tspan><tspan x="2483" dy="20">-</tspan><tspan x="2498">m_WaitIntent</tspan></text>
<text y="2433"><tspan x="2483" dy="20">+</tspan><tspan x="2498">WaitQueue()</tspan><tspan x="2483" dy="20">+</tspan><tspan x="2498">~WaitQueue()</tspan><tspan x="2483" dy="20">+</tspan><tspan x="2498">acquire()</tspan><tspan x="2483" dy="20">+</tspan><tspan x="2498">wakeOne()</tspan><tspan x="2483" dy="20">+</tspan><tspan x="2498">wakeAll()</tspan><tspan x="2483" dy="20">+</tspan><tspan x="2498">wakeAllIfWaiting()</tspan><tspan x="2483" dy="20">+</tspan><tspan x="2498">waiterCount()</tspan><tspan x="2483" dy="20">-</tspan><tspan x="2498">wait()</tspan><tspan x="2483" dy="20">-</tspan><tspan x="2498">wakeOneLocked()</tspan><tspan x="2483" dy="20">-</tspan><tspan x="2498">wakeAllLocked()</tspan><tspan x="2483" dy="20">-</tspan><tspan x="2498">wakeAndRequeueLocked()</tspan><tspan x="2483" dy="20">-</tspan><tspan x="2498">completeWaiter()</tspan><tspan x="2483" dy="20">-</tspan><tspan x="2498">removeWaiterLocked()</tspan><tspan x="2483" dy="20">-</tspan><tspan x="2498">clearWaitIntentIfEmpty()</tspan><tspan x="2483" dy="20">-</tspan><tspan x="2498">cancel()</tspan><tspan x="2483" dy="20">-</tspan><tspan x="2498">publishReady()</tspan></text></g>

<g id="n-AtomicSize1" class="o"><rect x="2701" y="2532" width="133" height="62"/><path d="M2701,2554h133M2701,2574h133"/><text class="tt" x="2767" y="2548">Atomic&lt; size_t &gt;</text></g>

<g id="n-ThreadStateLevel" class="r"><rect x="3108" y="2367" width="257" height="410"/><path d="M3108,2389h257M3108,2693h257"/><text class="tt" x="3236" y="2383">Thread::StateLevel</text>
<text y="2384"><tspan x="3115" dy="20">+</tspan><tspan x="3130">m_State</tspan><tspan x="3115" dy="20">+</tspan><tspan x="3130">m_SignalMask</tspan><tspan x="3115" dy="20">+</tspan><tspan x="3130">m_SavedSignalMask</tspan><tspan x="3115" dy="20">+</tspan><tspan x="3130">m_TemporarySignalMaskActive</tspan><tspan x="3115" dy="20">+</tspan><tspan x="3130">m_TemporarySignalWaitInterrupted</tspan><tspan x="3115" dy="20">+</tspan><tspan x="3130">m_DeferredSignalMaskRestore</tspan><tspan x="3115" dy="20">+</tspan><tspan x="3130">m_DispatchedSignalNumber</tspan><tspan x="3115" dy="20">+</tspan><tspan x="3130">m_DispatchedSignalContinuation</tspan><tspan x="3130" dy="20">Epoch</tspan><tspan x="3115" dy="20">+</tspan><tspan x="3130">m_bOwnsAlternateSignalStack</tspan><tspan x="3115" dy="20">+</tspan><tspan x="3130">m_Errno</tspan><tspan x="3115" dy="20">+</tspan><tspan x="3130">m_InterruptionReason</tspan><tspan x="3115" dy="20">+</tspan><tspan x="3130">m_bDispatchingWaitEvent</tspan><tspan x="3115" dy="20">+</tspan><tspan x="3130">m_bTerminalWaitCancelled</tspan><tspan x="3130" dy="20">BeforeBlock</tspan></text>
<text y="2688"><tspan x="3115" dy="20">+</tspan><tspan x="3130">StateLevel()</tspan><tspan x="3115" dy="20">+</tspan><tspan x="3130">~StateLevel()</tspan><tspan x="3115" dy="20">+</tspan><tspan x="3130">StateLevel()</tspan><tspan x="3115" dy="20">+</tspan><tspan x="3130">operator=()</tspan></text></g>

<g id="n-Semaphore" class="n"><rect x="2752" y="2860" width="235" height="390"/><path d="M2752,2882h235M2752,2926h235"/><text class="tt" x="2869" y="2876">Semaphore</text>
<text y="2877"><tspan x="2759" dy="20">-</tspan><tspan x="2774">magic</tspan><tspan x="2759" dy="20">-</tspan><tspan x="2774">m_bCanInterrupt</tspan></text>
<text y="2921"><tspan x="2759" dy="20">+</tspan><tspan x="2774">Semaphore()</tspan><tspan x="2759" dy="20">+</tspan><tspan x="2774">~Semaphore()</tspan><tspan x="2759" dy="20">+</tspan><tspan x="2774">acquireWithError()</tspan><tspan x="2759" dy="20">+</tspan><tspan x="2774">acquireForCompletion()</tspan><tspan x="2759" dy="20">+</tspan><tspan x="2774">acquire()</tspan><tspan x="2759" dy="20">+</tspan><tspan x="2774">tryAcquire()</tspan><tspan x="2759" dy="20">+</tspan><tspan x="2774">drainAvailable()</tspan><tspan x="2759" dy="20">+</tspan><tspan x="2774">release()</tspan><tspan x="2759" dy="20">+</tspan><tspan x="2774">getValue()</tspan><tspan x="2759" dy="20">+</tspan><tspan x="2774">getDebugMutexOwner()</tspan><tspan x="2759" dy="20">#</tspan><tspan x="2774">initialiseMutex()</tspan><tspan x="2759" dy="20">#</tspan><tspan x="2774">destroyMutex()</tspan><tspan x="2759" dy="20">#</tspan><tspan x="2774">mutexOwnedByCurrentThread()</tspan><tspan x="2759" dy="20">-</tspan><tspan x="2774">acquireWithResult()</tspan><tspan x="2759" dy="20">-</tspan><tspan x="2774">Semaphore()</tspan><tspan x="2759" dy="20">-</tspan><tspan x="2774">operator=()</tspan></text></g>

<g id="n-SharedPointerUserspacePidNamespace" class="o"><rect x="2024" y="3574" width="187" height="366"/><path d="M2024,3616h187M2024,3636h187"/><text class="tt" x="2117" y="3589">SharedPointer&lt; Userspace</text><text class="tt" x="2117" y="3609">PidNamespace &gt;</text>
<text y="3631"><tspan x="2039" dy="20">+</tspan><tspan x="2059">SharedPointer()</tspan><tspan x="2039" dy="20">+</tspan><tspan x="2059">SharedPointer()</tspan><tspan x="2039" dy="20">+</tspan><tspan x="2059">SharedPointer()</tspan><tspan x="2039" dy="20">+</tspan><tspan x="2059">SharedPointer()</tspan><tspan x="2039" dy="20">+</tspan><tspan x="2059">~SharedPointer()</tspan><tspan x="2039" dy="20">+</tspan><tspan x="2059">reset()</tspan><tspan x="2039" dy="20">+</tspan><tspan x="2059">reset()</tspan><tspan x="2039" dy="20">+</tspan><tspan x="2059">get()</tspan><tspan x="2039" dy="20">+</tspan><tspan x="2059">operator-&gt;()</tspan><tspan x="2039" dy="20">+</tspan><tspan x="2059">operator*()</tspan><tspan x="2059" dy="20">and 11 more...</tspan><tspan x="2039" dy="20">+</tspan><tspan x="2059">allocate()</tspan><tspan x="2039" dy="20">+</tspan><tspan x="2059">tryAllocate()</tspan><tspan x="2039" dy="20">+</tspan><tspan x="2059">tryAdopt()</tspan><tspan x="2039" dy="20">-</tspan><tspan x="2059">release()</tspan></text></g>

<g id="n-StaticString128" class="o"><rect x="2235" y="3551" width="177" height="410"/><path d="M2235,3573h177M2235,3657h177"/><text class="tt" x="2323" y="3567">StaticString&lt; 128 &gt;</text>
<text y="3568"><tspan x="2242" dy="20">-</tspan><tspan x="2257">m_pData</tspan><tspan x="2242" dy="20">-</tspan><tspan x="2257">m_Length</tspan><tspan x="2242" dy="20">-</tspan><tspan x="2257">m_Hash</tspan><tspan x="2242" dy="20">-</tspan><tspan x="2257">m_AllowHashes</tspan></text>
<text y="3652"><tspan x="2242" dy="20">+</tspan><tspan x="2257">StaticString()</tspan><tspan x="2242" dy="20">+</tspan><tspan x="2257">StaticString()</tspan><tspan x="2242" dy="20">+</tspan><tspan x="2257">StaticString()</tspan><tspan x="2242" dy="20">+</tspan><tspan x="2257">StaticString()</tspan><tspan x="2242" dy="20">+</tspan><tspan x="2257">StaticString()</tspan><tspan x="2242" dy="20">+</tspan><tspan x="2257">operator const char *()</tspan><tspan x="2242" dy="20">+</tspan><tspan x="2257">operator+=()</tspan><tspan x="2242" dy="20">+</tspan><tspan x="2257">operator+=()</tspan><tspan x="2242" dy="20">+</tspan><tspan x="2257">clear()</tspan><tspan x="2242" dy="20">+</tspan><tspan x="2257">assign()</tspan><tspan x="2257" dy="20">and 38 more...</tspan><tspan x="2242" dy="20">-</tspan><tspan x="2257">updateHash()</tspan><tspan x="2242" dy="20">-</tspan><tspan x="2257">check()</tspan><tspan x="2242" dy="20">-</tspan><tspan x="2257">canAppend()</tspan><tspan x="2242" dy="20">-</tspan><tspan x="2257">contains()</tspan></text></g>

<g id="n-OperationBarrier" class="n"><rect x="2487" y="3592" width="256" height="330"/><path d="M2487,3614h256M2487,3678h256"/><text class="tt" x="2615" y="3608">OperationBarrier</text>
<text y="3609"><tspan x="2494" dy="20">-</tspan><tspan x="2509">m_State</tspan><tspan x="2494" dy="20">-</tspan><tspan x="2509">Closed</tspan><tspan x="2494" dy="20">-</tspan><tspan x="2509">CountMask</tspan></text>
<text y="3673"><tspan x="2494" dy="20">+</tspan><tspan x="2509">OperationBarrier()</tspan><tspan x="2494" dy="20">+</tspan><tspan x="2509">~OperationBarrier()</tspan><tspan x="2494" dy="20">+</tspan><tspan x="2509">tryEnter()</tspan><tspan x="2494" dy="20">+</tspan><tspan x="2509">tryAcquire()</tspan><tspan x="2494" dy="20">+</tspan><tspan x="2509">leave()</tspan><tspan x="2494" dy="20">+</tspan><tspan x="2509">close()</tspan><tspan x="2494" dy="20">+</tspan><tspan x="2509">tryCloseIfIdle()</tspan><tspan x="2494" dy="20">+</tspan><tspan x="2509">wait()</tspan><tspan x="2494" dy="20">+</tspan><tspan x="2509">closeAndWait()</tspan><tspan x="2494" dy="20">+</tspan><tspan x="2509">isOpen()</tspan><tspan x="2494" dy="20">+</tspan><tspan x="2509">isClosedAndDrained()</tspan><tspan x="2494" dy="20">-</tspan><tspan x="2509">NOT_COPYABLE_OR_ASSIGNABLE()</tspan></text></g>

<g id="n-Mutex" class="n"><rect x="2766" y="3692" width="207" height="126"/><path d="M2766,3714h207M2766,3734h207"/><text class="tt" x="2869" y="3708">Mutex</text>
<text y="3729"><tspan x="2773" dy="20">+</tspan><tspan x="2788">Mutex()</tspan><tspan x="2773" dy="20">+</tspan><tspan x="2788">Mutex()</tspan><tspan x="2773" dy="20">+</tspan><tspan x="2788">~Mutex()</tspan><tspan x="2773" dy="20">+</tspan><tspan x="2788">isOwnedByCurrentThread()</tspan></text></g>

<g id="n-AtomicSize2" class="o"><rect x="2996" y="3722" width="128" height="62"/><path d="M2996,3744h128M2996,3764h128"/><text class="tt" x="3060" y="3738">Atomic&lt; size_t &gt;</text></g>

<g id="n-PerProcessorScheduler" class="o"><rect x="3219" y="4305" width="263" height="850"/><path d="M3219,4327h263M3219,4551h263"/><text class="tt" x="3350" y="4321">PerProcessorScheduler</text>
<text y="4322"><tspan x="3226" dy="20">-</tspan><tspan x="3241">m_NewThreadAdmissionOpen</tspan><tspan x="3226" dy="20">-</tspan><tspan x="3241">m_StopNewThreadWorker</tspan><tspan x="3226" dy="20">-</tspan><tspan x="3241">m_AffinityAdmissionOpen</tspan><tspan x="3226" dy="20">-</tspan><tspan x="3241">m_LogicalCpu</tspan><tspan x="3226" dy="20">-</tspan><tspan x="3241">m_PhysicalCpu</tspan><tspan x="3226" dy="20">-</tspan><tspan x="3241">m_NominalQuantumNs</tspan><tspan x="3226" dy="20">-</tspan><tspan x="3241">m_IdleWakeRequested</tspan><tspan x="3226" dy="20">-</tspan><tspan x="3241">m_schedulerTickCounter</tspan><tspan x="3226" dy="20">-</tspan><tspan x="3241">m_UserReturnDiagnosticSequence</tspan><tspan x="3226" dy="20">-</tspan><tspan x="3241">DeferredReapPublicationClosed</tspan><tspan x="3226" dy="20">-</tspan><tspan x="3241">DeferredReapPublicationCountMask</tspan></text>
<text y="4546"><tspan x="3226" dy="20">+</tspan><tspan x="3241">PerProcessorScheduler()</tspan><tspan x="3226" dy="20">+</tspan><tspan x="3241">~PerProcessorScheduler()</tspan><tspan x="3226" dy="20">+</tspan><tspan x="3241">initialise()</tspan><tspan x="3226" dy="20">+</tspan><tspan x="3241">checkEventState()</tspan><tspan x="3226" dy="20">+</tspan><tspan x="3241">eventHandlerReturned()</tspan><tspan x="3226" dy="20">+</tspan><tspan x="3241">addThread()</tspan><tspan x="3226" dy="20">+</tspan><tspan x="3241">addThread()</tspan><tspan x="3226" dy="20">+</tspan><tspan x="3241">commitCurrentThreadExit()</tspan><tspan x="3226" dy="20">+</tspan><tspan x="3241">abandonCurrentThreadStack()</tspan><tspan x="3226" dy="20">+</tspan><tspan x="3241">requestCurrentThreadExit</tspan><tspan x="3241" dy="20">ToIdle()</tspan><tspan x="3241" dy="20">and 18 more...</tspan><tspan x="3226" dy="20">+</tspan><tspan x="3241">stackDiscardCount()</tspan><tspan x="3226" dy="20">+</tspan><tspan x="3241">stackDiscardCount()</tspan><tspan x="3226" dy="20">-</tspan><tspan x="3241">killCurrentThread()</tspan><tspan x="3226" dy="20">-</tspan><tspan x="3241">schedule()</tspan><tspan x="3226" dy="20">-</tspan><tspan x="3241">scheduleWithInterruptState()</tspan><tspan x="3226" dy="20">-</tspan><tspan x="3241">blockCurrent()</tspan><tspan x="3226" dy="20">-</tspan><tspan x="3241">publishReadyFromWait()</tspan><tspan x="3226" dy="20">-</tspan><tspan x="3241">finishCurrentThreadExit()</tspan><tspan x="3226" dy="20">-</tspan><tspan x="3241">serviceDeferredSubsystem</tspan><tspan x="3241" dy="20">Exception()</tspan><tspan x="3226" dy="20">-</tspan><tspan x="3241">checkEventState()</tspan><tspan x="3226" dy="20">-</tspan><tspan x="3241">checkEventState()</tspan><tspan x="3226" dy="20">-</tspan><tspan x="3241">PerProcessorScheduler()</tspan><tspan x="3241" dy="20">and 13 more...</tspan><tspan x="3226" dy="20">-</tspan><tspan x="3241">deleteThreadThenRestoreState()</tspan><tspan x="3226" dy="20">-</tspan><tspan x="3241">deleteThread()</tspan><tspan x="3226" dy="20">-</tspan><tspan x="3241">timeAccountingWorkerEntry()</tspan><tspan x="3226" dy="20">-</tspan><tspan x="3241">processorAddThread()</tspan></text></g>

<g id="n-DisplayRgb" class="n"><rect x="2217" y="4662" width="102" height="126"/><path d="M2217,4684h102M2217,4768h102"/><text class="tt" x="2268" y="4678">Display::rgb_t</text>
<text y="4679"><tspan x="2237" dy="20">+</tspan><tspan x="2272">r</tspan><tspan x="2237" dy="20">+</tspan><tspan x="2272">g</tspan><tspan x="2237" dy="20">+</tspan><tspan x="2272">b</tspan><tspan x="2237" dy="20">+</tspan><tspan x="2272">a</tspan></text></g>

<g id="n-pedigree_fb_mode" class="n"><rect x="2661" y="4642" width="134" height="166"/><path d="M2661,4664h134M2661,4788h134"/><text class="tt" x="2728" y="4658">pedigree_fb_mode</text>
<text y="4659"><tspan x="2668" dy="20">+</tspan><tspan x="2683">width</tspan><tspan x="2668" dy="20">+</tspan><tspan x="2683">height</tspan><tspan x="2668" dy="20">+</tspan><tspan x="2683">depth</tspan><tspan x="2668" dy="20">+</tspan><tspan x="2683">bytes_per_pixel</tspan><tspan x="2668" dy="20">+</tspan><tspan x="2683">format</tspan><tspan x="2668" dy="20">+</tspan><tspan x="2683">bytes_per_line</tspan></text></g>

<g id="n-Framebuffer" class="n"><rect x="2650" y="5256" width="159" height="870"/><path d="M2650,5278h159M2650,5642h159"/><text class="tt" x="2729" y="5272">Framebuffer</text>
<text y="5273"><tspan x="2657" dy="20">+</tspan><tspan x="2672">m_XPos</tspan><tspan x="2657" dy="20">+</tspan><tspan x="2672">m_YPos</tspan><tspan x="2657" dy="20">+</tspan><tspan x="2672">m_nWidth</tspan><tspan x="2657" dy="20">+</tspan><tspan x="2672">m_nHeight</tspan><tspan x="2657" dy="20">+</tspan><tspan x="2672">m_PixelFormat</tspan><tspan x="2657" dy="20">+</tspan><tspan x="2672">m_nBytesPerPixel</tspan><tspan x="2657" dy="20">+</tspan><tspan x="2672">m_nBytesPerLine</tspan><tspan x="2657" dy="20">#</tspan><tspan x="2672">m_FramebufferBase</tspan><tspan x="2657" dy="20">#</tspan><tspan x="2672">m_Palette</tspan><tspan x="2657" dy="20">#</tspan><tspan x="2672">m_bActive</tspan><tspan x="2657" dy="20">-</tspan><tspan x="2672">m_pFramebuffer</tspan><tspan x="2657" dy="20">-</tspan><tspan x="2672">m_FramebufferSize</tspan><tspan x="2657" dy="20">-</tspan><tspan x="2672">m_Format</tspan><tspan x="2657" dy="20">-</tspan><tspan x="2672">m_Width</tspan><tspan x="2657" dy="20">-</tspan><tspan x="2672">m_Height</tspan><tspan x="2657" dy="20">-</tspan><tspan x="2672">m_BytesPerLine</tspan><tspan x="2657" dy="20">-</tspan><tspan x="2672">m_Fb</tspan><tspan x="2657" dy="20">-</tspan><tspan x="2672">m_bStoredMode</tspan></text>
<text y="5637"><tspan x="2657" dy="20">+</tspan><tspan x="2672">Framebuffer()</tspan><tspan x="2657" dy="20">+</tspan><tspan x="2672">~Framebuffer()</tspan><tspan x="2657" dy="20">+</tspan><tspan x="2672">getWidth()</tspan><tspan x="2657" dy="20">+</tspan><tspan x="2672">getHeight()</tspan><tspan x="2657" dy="20">+</tspan><tspan x="2672">getFormat()</tspan><tspan x="2657" dy="20">+</tspan><tspan x="2672">getActive()</tspan><tspan x="2657" dy="20">+</tspan><tspan x="2672">setActive()</tspan><tspan x="2657" dy="20">+</tspan><tspan x="2672">setPalette()</tspan><tspan x="2657" dy="20">+</tspan><tspan x="2672">getPalette()</tspan><tspan x="2657" dy="20">+</tspan><tspan x="2672">getRawBuffer()</tspan><tspan x="2672" dy="20">and 35 more...</tspan><tspan x="2657" dy="20">#</tspan><tspan x="2672">bufferFromSelf()</tspan><tspan x="2657" dy="20">#</tspan><tspan x="2672">draw()</tspan><tspan x="2657" dy="20">#</tspan><tspan x="2672">swBlit()</tspan><tspan x="2657" dy="20">#</tspan><tspan x="2672">swRect()</tspan><tspan x="2657" dy="20">#</tspan><tspan x="2672">swCopy()</tspan><tspan x="2657" dy="20">#</tspan><tspan x="2672">swLine()</tspan><tspan x="2657" dy="20">#</tspan><tspan x="2672">swDraw()</tspan><tspan x="2657" dy="20">#</tspan><tspan x="2672">swDraw()</tspan><tspan x="2657" dy="20">#</tspan><tspan x="2672">swCreateBuffer()</tspan><tspan x="2657" dy="20">#</tspan><tspan x="2672">swDestroyBuffer()</tspan><tspan x="2657" dy="20">#</tspan><tspan x="2672">hwRedraw()</tspan><tspan x="2657" dy="20">-</tspan><tspan x="2672">swSetPixel()</tspan><tspan x="2657" dy="20">-</tspan><tspan x="2672">mapMode()</tspan></text></g>

<g id="n-Display" class="n"><rect x="2196" y="5556" width="144" height="266"/><path d="M2196,5578h144M2196,5598h144"/><text class="tt" x="2268" y="5572">Display</text>
<text y="5593"><tspan x="2203" dy="20">+</tspan><tspan x="2218">Display()</tspan><tspan x="2203" dy="20">+</tspan><tspan x="2218">Display()</tspan><tspan x="2203" dy="20">+</tspan><tspan x="2218">~Display()</tspan><tspan x="2203" dy="20">+</tspan><tspan x="2218">getType()</tspan><tspan x="2203" dy="20">+</tspan><tspan x="2218">getName()</tspan><tspan x="2203" dy="20">+</tspan><tspan x="2218">dump()</tspan><tspan x="2203" dy="20">+</tspan><tspan x="2218">getFramebuffer()</tspan><tspan x="2203" dy="20">+</tspan><tspan x="2218">newBuffer()</tspan><tspan x="2203" dy="20">+</tspan><tspan x="2218">setCurrentBuffer()</tspan><tspan x="2203" dy="20">+</tspan><tspan x="2218">updateBuffer()</tspan><tspan x="2218" dy="20">and 9 more...</tspan></text></g>

<g id="n-GraphicsProvider" class="n"><rect x="2264" y="6367" width="184" height="226"/><path d="M2264,6409h184M2264,6573h184"/><text class="tt" x="2356" y="6382">GraphicsService::Graphics</text><text class="tt" x="2356" y="6402">Provider</text>
<text y="6404"><tspan x="2281" dy="20">+</tspan><tspan x="2302">bHardwareAccel</tspan><tspan x="2281" dy="20">+</tspan><tspan x="2302">maxWidth</tspan><tspan x="2281" dy="20">+</tspan><tspan x="2302">maxHeight</tspan><tspan x="2281" dy="20">+</tspan><tspan x="2302">maxDepth</tspan><tspan x="2281" dy="20">+</tspan><tspan x="2302">maxTextWidth</tspan><tspan x="2281" dy="20">+</tspan><tspan x="2302">maxTextHeight</tspan><tspan x="2281" dy="20">+</tspan><tspan x="2302">bTextModes</tspan><tspan x="2281" dy="20">+</tspan><tspan x="2302">bFirmwareFallback</tspan></text></g>

<g id="n-GpuFramebuffer" class="g"><rect x="2609" y="6405" width="188" height="146"/><path d="M2609,6427h188M2609,6447h188"/><text class="tt" x="2703" y="6421">VirtioGpu::GpuFramebuffer</text>
<text y="6442"><tspan x="2629" dy="20">+</tspan><tspan x="2654">GpuFramebuffer()</tspan><tspan x="2629" dy="20">+</tspan><tspan x="2654">getPhysicalPage()</tspan><tspan x="2629" dy="20">+</tspan><tspan x="2654">closeCallbacks()</tspan><tspan x="2629" dy="20">+</tspan><tspan x="2654">detach()</tspan><tspan x="2629" dy="20">#</tspan><tspan x="2654">hwRedraw()</tspan></text></g>

<g id="n-VirtioGpu" class="n"><rect x="2197" y="6801" width="188" height="568"/><path d="M2197,6823h188M2197,6987h188"/><text class="tt" x="2291" y="6817">VirtioGpu</text>
<text y="6818"><tspan x="2204" dy="20">-</tspan><tspan x="2219">m_Mode</tspan><tspan x="2204" dy="20">-</tspan><tspan x="2219">m_NextFence</tspan><tspan x="2204" dy="20">-</tspan><tspan x="2219">m_Scanout</tspan><tspan x="2204" dy="20">-</tspan><tspan x="2219">m_Ready</tspan><tspan x="2204" dy="20">-</tspan><tspan x="2219">m_Failed</tspan><tspan x="2204" dy="20">-</tspan><tspan x="2219">m_Registered</tspan><tspan x="2204" dy="20">-</tspan><tspan x="2219">m_Shutdown</tspan><tspan x="2204" dy="20">-</tspan><tspan x="2219">m_Stopping</tspan></text>
<text y="6982"><tspan x="2204" dy="20">+</tspan><tspan x="2219">VirtioGpu()</tspan><tspan x="2204" dy="20">+</tspan><tspan x="2219">~VirtioGpu()</tspan><tspan x="2204" dy="20">+</tspan><tspan x="2219">initialise()</tspan><tspan x="2204" dy="20">+</tspan><tspan x="2219">shutdown()</tspan><tspan x="2204" dy="20">+</tspan><tspan x="2219">redraw()</tspan><tspan x="2204" dy="20">+</tspan><tspan x="2219">getName()</tspan><tspan x="2204" dy="20">+</tspan><tspan x="2219">dump()</tspan><tspan x="2204" dy="20">+</tspan><tspan x="2219">getFramebuffer()</tspan><tspan x="2204" dy="20">+</tspan><tspan x="2219">getPixelFormat()</tspan><tspan x="2204" dy="20">+</tspan><tspan x="2219">getCurrentScreenMode()</tspan><tspan x="2204" dy="20">+</tspan><tspan x="2219">getScreenModes()</tspan><tspan x="2204" dy="20">+</tspan><tspan x="2219">setScreenMode()</tspan><tspan x="2204" dy="20">+</tspan><tspan x="2219">setScreenMode()</tspan><tspan x="2204" dy="20">+</tspan><tspan x="2219">setScreenMode()</tspan><tspan x="2204" dy="20">-</tspan><tspan x="2219">transact()</tspan><tspan x="2204" dy="20">-</tspan><tspan x="2219">update()</tspan><tspan x="2204" dy="20">-</tspan><tspan x="2219">registerProvider()</tspan><tspan x="2204" dy="20">-</tspan><tspan x="2219">unregisterProvider()</tspan><tspan x="2204" dy="20">-</tspan><tspan x="2219">refreshThread()</tspan></text></g>

<g id="n-MemoryRegion" class="n"><rect x="1928" y="5466" width="188" height="450"/><path d="M1928,5488h188M1928,5652h188"/><text class="tt" x="2022" y="5482">MemoryRegion</text>
<text y="5483"><tspan x="1935" dy="20">-</tspan><tspan x="1950">m_VirtualAddress</tspan><tspan x="1935" dy="20">-</tspan><tspan x="1950">m_PhysicalAddress</tspan><tspan x="1935" dy="20">-</tspan><tspan x="1950">m_Size</tspan><tspan x="1935" dy="20">-</tspan><tspan x="1950">m_pName</tspan><tspan x="1935" dy="20">-</tspan><tspan x="1950">m_bNonRamMemory</tspan><tspan x="1935" dy="20">-</tspan><tspan x="1950">m_bForced</tspan><tspan x="1935" dy="20">-</tspan><tspan x="1950">m_bPageBacked</tspan><tspan x="1935" dy="20">-</tspan><tspan x="1950">m_bAnonymous</tspan></text>
<text y="5647"><tspan x="1935" dy="20">+</tspan><tspan x="1950">MemoryRegion()</tspan><tspan x="1935" dy="20">+</tspan><tspan x="1950">~MemoryRegion()</tspan><tspan x="1935" dy="20">+</tspan><tspan x="1950">free()</tspan><tspan x="1935" dy="20">+</tspan><tspan x="1950">virtualAddress()</tspan><tspan x="1935" dy="20">+</tspan><tspan x="1950">physicalAddress()</tspan><tspan x="1935" dy="20">+</tspan><tspan x="1950">size()</tspan><tspan x="1935" dy="20">+</tspan><tspan x="1950">name()</tspan><tspan x="1935" dy="20">+</tspan><tspan x="1950">operator bool()</tspan><tspan x="1935" dy="20">+</tspan><tspan x="1950">physicalBoundsCheck()</tspan><tspan x="1935" dy="20">+</tspan><tspan x="1950">convertPhysicalPointer()</tspan><tspan x="1950" dy="20">and 6 more...</tspan><tspan x="1935" dy="20">-</tspan><tspan x="1950">MemoryRegion()</tspan><tspan x="1935" dy="20">-</tspan><tspan x="1950">operator=()</tspan></text></g>

<g id="n-PciTransport" class="n"><rect x="231" y="5396" width="169" height="590"/><path d="M231,5418h169M231,5602h169"/><text class="tt" x="315" y="5412">Virtio::PciTransport</text>
<text y="5413"><tspan x="238" dy="20">-</tspan><tspan x="253">m_NotifyOffsets</tspan><tspan x="238" dy="20">-</tspan><tspan x="253">m_NotifyMultiplier</tspan><tspan x="238" dy="20">-</tspan><tspan x="253">m_Features</tspan><tspan x="238" dy="20">-</tspan><tspan x="253">m_NumQueues</tspan><tspan x="238" dy="20">-</tspan><tspan x="253">m_PciChanged</tspan><tspan x="238" dy="20">-</tspan><tspan x="253">m_Initialised</tspan><tspan x="238" dy="20">-</tspan><tspan x="253">m_Negotiated</tspan><tspan x="238" dy="20">-</tspan><tspan x="253">m_DmaActive</tspan><tspan x="238" dy="20">-</tspan><tspan x="253">MaxQueues</tspan></text>
<text y="5597"><tspan x="238" dy="20">+</tspan><tspan x="253">PciTransport()</tspan><tspan x="238" dy="20">+</tspan><tspan x="253">~PciTransport()</tspan><tspan x="238" dy="20">+</tspan><tspan x="253">initialise()</tspan><tspan x="238" dy="20">+</tspan><tspan x="253">negotiate()</tspan><tspan x="238" dy="20">+</tspan><tspan x="253">setupQueue()</tspan><tspan x="238" dy="20">+</tspan><tspan x="253">ready()</tspan><tspan x="238" dy="20">+</tspan><tspan x="253">reset()</tspan><tspan x="238" dy="20">+</tspan><tspan x="253">readIsr()</tspan><tspan x="238" dy="20">+</tspan><tspan x="253">notify()</tspan><tspan x="238" dy="20">+</tspan><tspan x="253">features()</tspan><tspan x="238" dy="20">+</tspan><tspan x="253">writeDeviceConfig8()</tspan><tspan x="238" dy="20">+</tspan><tspan x="253">readDeviceConfig8()</tspan><tspan x="238" dy="20">+</tspan><tspan x="253">readDeviceConfig16()</tspan><tspan x="238" dy="20">+</tspan><tspan x="253">readDeviceConfig32()</tspan><tspan x="238" dy="20">+</tspan><tspan x="253">readDeviceConfig64()</tspan><tspan x="238" dy="20">-</tspan><tspan x="253">locateCapabilities()</tspan><tspan x="238" dy="20">-</tspan><tspan x="253">readConfig()</tspan><tspan x="238" dy="20">-</tspan><tspan x="253">status()</tspan><tspan x="238" dy="20">-</tspan><tspan x="253">isDmaActive()</tspan></text></g>

<g id="n-VectorDevice" class="n"><rect x="486" y="5515" width="141" height="350"/><path d="M486,5537h141M486,5621h141"/><text class="tt" x="556" y="5531">Vector&lt; Device * &gt;</text>
<text y="5532"><tspan x="493" dy="20">-</tspan><tspan x="508">m_Size</tspan><tspan x="493" dy="20">-</tspan><tspan x="508">m_Count</tspan><tspan x="493" dy="20">-</tspan><tspan x="508">m_Start</tspan><tspan x="493" dy="20">-</tspan><tspan x="508">m_ReserveFactor</tspan></text>
<text y="5616"><tspan x="493" dy="20">+</tspan><tspan x="508">Vector()</tspan><tspan x="493" dy="20">+</tspan><tspan x="508">Vector()</tspan><tspan x="493" dy="20">+</tspan><tspan x="508">Vector()</tspan><tspan x="493" dy="20">+</tspan><tspan x="508">~Vector()</tspan><tspan x="493" dy="20">+</tspan><tspan x="508">operator=()</tspan><tspan x="493" dy="20">+</tspan><tspan x="508">operator[]()</tspan><tspan x="493" dy="20">+</tspan><tspan x="508">operator[]()</tspan><tspan x="493" dy="20">+</tspan><tspan x="508">size()</tspan><tspan x="493" dy="20">+</tspan><tspan x="508">count()</tspan><tspan x="493" dy="20">+</tspan><tspan x="508">pushBack()</tspan><tspan x="508" dy="20">and 25 more...</tspan><tspan x="493" dy="20">-</tspan><tspan x="508">reserve()</tspan></text></g>

<g id="n-VirtioQueue" class="n"><rect x="1797" y="6214" width="156" height="530"/><path d="M1797,6236h156M1797,6520h156"/><text class="tt" x="1875" y="6230">Virtio::Queue</text>
<text y="6231"><tspan x="1804" dy="20">-</tspan><tspan x="1819">m_Cookies</tspan><tspan x="1804" dy="20">-</tspan><tspan x="1819">m_Next</tspan><tspan x="1804" dy="20">-</tspan><tspan x="1819">m_ChainLength</tspan><tspan x="1804" dy="20">-</tspan><tspan x="1819">m_FreeHead</tspan><tspan x="1804" dy="20">-</tspan><tspan x="1819">m_FreeCount</tspan><tspan x="1804" dy="20">-</tspan><tspan x="1819">m_Depth</tspan><tspan x="1804" dy="20">-</tspan><tspan x="1819">m_AvailableIndex</tspan><tspan x="1804" dy="20">-</tspan><tspan x="1819">m_UsedIndex</tspan><tspan x="1804" dy="20">-</tspan><tspan x="1819">m_Active</tspan><tspan x="1804" dy="20">-</tspan><tspan x="1819">m_Online</tspan><tspan x="1804" dy="20">-</tspan><tspan x="1819">m_DmaArmed</tspan><tspan x="1804" dy="20">-</tspan><tspan x="1819">m_Attached</tspan><tspan x="1804" dy="20">-</tspan><tspan x="1819">MaxDepth</tspan><tspan x="1804" dy="20">-</tspan><tspan x="1819">Invalid</tspan></text>
<text y="6515"><tspan x="1804" dy="20">+</tspan><tspan x="1819">Queue()</tspan><tspan x="1804" dy="20">+</tspan><tspan x="1819">~Queue()</tspan><tspan x="1804" dy="20">+</tspan><tspan x="1819">submit()</tspan><tspan x="1804" dy="20">+</tspan><tspan x="1819">pop()</tspan><tspan x="1804" dy="20">+</tspan><tspan x="1819">depth()</tspan><tspan x="1804" dy="20">+</tspan><tspan x="1819">stop()</tspan><tspan x="1804" dy="20">-</tspan><tspan x="1819">__attribute__()</tspan><tspan x="1804" dy="20">-</tspan><tspan x="1819">initialise()</tspan><tspan x="1804" dy="20">-</tspan><tspan x="1819">descriptorAddress()</tspan><tspan x="1804" dy="20">-</tspan><tspan x="1819">availableAddress()</tspan><tspan x="1804" dy="20">-</tspan><tspan x="1819">usedAddress()</tspan></text></g>

<g id="n-PciFunctionStateState" class="n"><rect x="6" y="4632" width="162" height="186"/><path d="M6,4654h162M6,4798h162"/><text class="tt" x="87" y="4648">PciFunctionState::State</text>
<text y="4649"><tspan x="26" dy="20">-</tspan><tspan x="54">command</tspan><tspan x="26" dy="20">-</tspan><tspan x="54">bars</tspan><tspan x="26" dy="20">-</tspan><tspan x="54">interruptLine</tspan><tspan x="26" dy="20">-</tspan><tspan x="54">interruptPin</tspan><tspan x="26" dy="20">-</tspan><tspan x="54">pm</tspan><tspan x="26" dy="20">-</tspan><tspan x="54">msi</tspan><tspan x="26" dy="20">-</tspan><tspan x="54">msix</tspan></text></g>

<g id="n-Device" class="n"><rect x="550" y="4301" width="254" height="870"/><path d="M550,4323h254M550,4507h254"/><text class="tt" x="677" y="4317">Device</text>
<text y="4318"><tspan x="557" dy="20">#</tspan><tspan x="572">m_InterruptNumber</tspan><tspan x="557" dy="20">#</tspan><tspan x="572">m_ClassCode</tspan><tspan x="557" dy="20">#</tspan><tspan x="572">m_SubclassCode</tspan><tspan x="557" dy="20">#</tspan><tspan x="572">m_VendorId</tspan><tspan x="557" dy="20">#</tspan><tspan x="572">m_DeviceId</tspan><tspan x="557" dy="20">#</tspan><tspan x="572">m_ProgInterface</tspan><tspan x="557" dy="20">#</tspan><tspan x="572">m_PciBusPos</tspan><tspan x="557" dy="20">#</tspan><tspan x="572">m_PciDevicePos</tspan><tspan x="557" dy="20">#</tspan><tspan x="572">m_PciFunctionNum</tspan></text>
<text y="4502"><tspan x="557" dy="20">+</tspan><tspan x="572">Device()</tspan><tspan x="557" dy="20">+</tspan><tspan x="572">Device()</tspan><tspan x="557" dy="20">+</tspan><tspan x="572">~Device()</tspan><tspan x="557" dy="20">+</tspan><tspan x="572">getParent()</tspan><tspan x="557" dy="20">+</tspan><tspan x="572">setParent()</tspan><tspan x="557" dy="20">+</tspan><tspan x="572">getName()</tspan><tspan x="557" dy="20">+</tspan><tspan x="572">getType()</tspan><tspan x="557" dy="20">+</tspan><tspan x="572">getSpecificType()</tspan><tspan x="557" dy="20">+</tspan><tspan x="572">setSpecificType()</tspan><tspan x="557" dy="20">+</tspan><tspan x="572">setPciPosition()</tspan><tspan x="572" dy="20">and 21 more...</tspan><tspan x="557" dy="20">+</tspan><tspan x="572">foreach()</tspan><tspan x="557" dy="20">+</tspan><tspan x="572">foreach()</tspan><tspan x="557" dy="20">+</tspan><tspan x="572">addToRoot()</tspan><tspan x="557" dy="20">+</tspan><tspan x="572">searchByVendorId()</tspan><tspan x="557" dy="20">+</tspan><tspan x="572">searchByVendorIdAndDeviceId()</tspan><tspan x="557" dy="20">+</tspan><tspan x="572">searchByClass()</tspan><tspan x="557" dy="20">+</tspan><tspan x="572">searchByClassAndSubclass()</tspan><tspan x="557" dy="20">+</tspan><tspan x="572">searchByClassSubclassAnd</tspan><tspan x="572" dy="20">ProgInterface()</tspan><tspan x="557" dy="20">#</tspan><tspan x="572">NOT_COPYABLE_OR_ASSIGNABLE()</tspan><tspan x="557" dy="20">#</tspan><tspan x="572">root()</tspan><tspan x="557" dy="20">-</tspan><tspan x="572">removeIoMappings()</tspan><tspan x="557" dy="20">-</tspan><tspan x="572">foreachInternal()</tspan><tspan x="557" dy="20">-</tspan><tspan x="572">foreachInternal()</tspan><tspan x="557" dy="20">-</tspan><tspan x="572">searchByVendorIdInternal()</tspan><tspan x="557" dy="20">-</tspan><tspan x="572">searchByVendorIdAndDevice</tspan><tspan x="572" dy="20">IdInternal()</tspan><tspan x="557" dy="20">-</tspan><tspan x="572">searchByClassInternal()</tspan><tspan x="557" dy="20">-</tspan><tspan x="572">searchByClassAndSubclass</tspan><tspan x="572" dy="20">Internal()</tspan><tspan x="557" dy="20">-</tspan><tspan x="572">searchByClassSubclassAnd</tspan><tspan x="572" dy="20">ProgInterfaceInternal()</tspan></text></g>

<g id="n-Process" class="r"><rect x="1658" y="4254" width="257" height="950"/><path d="M1658,4276h257M1658,4520h257"/><text class="tt" x="1786" y="4270">Process</text>
<text y="4271"><tspan x="1665" dy="20">-</tspan><tspan x="1680">m_Id</tspan><tspan x="1665" dy="20">-</tspan><tspan x="1680">m_UserspaceId</tspan><tspan x="1665" dy="20">-</tspan><tspan x="1680">m_ExitStatus</tspan><tspan x="1665" dy="20">-</tspan><tspan x="1680">m_bFilesystemContextReady</tspan><tspan x="1665" dy="20">-</tspan><tspan x="1680">m_UserReservationGeneration</tspan><tspan x="1665" dy="20">-</tspan><tspan x="1680">m_ContinuationEpoch</tspan><tspan x="1665" dy="20">-</tspan><tspan x="1680">m_nThreadJoinOperations</tspan><tspan x="1665" dy="20">-</tspan><tspan x="1680">m_bThreadJoinAdmissionClosed</tspan><tspan x="1665" dy="20">-</tspan><tspan x="1680">m_nExternalLeases</tspan><tspan x="1665" dy="20">-</tspan><tspan x="1680">m_bExternalLeaseAdmission</tspan><tspan x="1680" dy="20">Closed</tspan><tspan x="1680" dy="20">and 19 more...</tspan></text>
<text y="4515"><tspan x="1665" dy="20">+</tspan><tspan x="1680">Process()</tspan><tspan x="1665" dy="20">+</tspan><tspan x="1680">Process()</tspan><tspan x="1665" dy="20">+</tspan><tspan x="1680">~Process()</tspan><tspan x="1665" dy="20">+</tspan><tspan x="1680">addThread()</tspan><tspan x="1665" dy="20">+</tspan><tspan x="1680">threadExiting()</tspan><tspan x="1665" dy="20">+</tspan><tspan x="1680">transferExecProcessSignals()</tspan><tspan x="1665" dy="20">+</tspan><tspan x="1680">removeThread()</tspan><tspan x="1665" dy="20">+</tspan><tspan x="1680">getNumThreads()</tspan><tspan x="1665" dy="20">+</tspan><tspan x="1680">acquireThread()</tspan><tspan x="1665" dy="20">+</tspan><tspan x="1680">acquireProcessSignalThread()</tspan><tspan x="1680" dy="20">and 87 more...</tspan><tspan x="1665" dy="20">+</tspan><tspan x="1680">currentFilesystemCredentials()</tspan><tspan x="1665" dy="20">+</tspan><tspan x="1680">getInit()</tspan><tspan x="1665" dy="20">+</tspan><tspan x="1680">setInit()</tspan><tspan x="1665" dy="20">#</tspan><tspan x="1680">publishAccountIdentity()</tspan><tspan x="1665" dy="20">#</tspan><tspan x="1680">Process()</tspan><tspan x="1665" dy="20">#</tspan><tspan x="1680">Process()</tspan><tspan x="1665" dy="20">#</tspan><tspan x="1680">publish()</tspan><tspan x="1665" dy="20">#</tspan><tspan x="1680">prepareForDestruction()</tspan><tspan x="1665" dy="20">#</tspan><tspan x="1680">enableTimeAccountingReports()</tspan><tspan x="1665" dy="20">#</tspan><tspan x="1680">setTimeAccountingReportInterest()</tspan><tspan x="1665" dy="20">#</tspan><tspan x="1680">loadFilesystemIds()</tspan><tspan x="1665" dy="20">#</tspan><tspan x="1680">publishFilesystemIds()</tspan><tspan x="1665" dy="20">-</tspan><tspan x="1680">finishTermination()</tspan><tspan x="1665" dy="20">-</tspan><tspan x="1680">Process()</tspan><tspan x="1665" dy="20">-</tspan><tspan x="1680">operator=()</tspan><tspan x="1665" dy="20">-</tspan><tspan x="1680">reportTimesUpdated()</tspan><tspan x="1665" dy="20">-</tspan><tspan x="1680">drainDeferredTimeAccounting()</tspan><tspan x="1665" dy="20">-</tspan><tspan x="1680">closeDeferredTimeAccounting()</tspan><tspan x="1665" dy="20">-</tspan><tspan x="1680">totalTime()</tspan><tspan x="1665" dy="20">-</tspan><tspan x="1680">reportTimeAccounting()</tspan><tspan x="1665" dy="20">-</tspan><tspan x="1680">queueTimeAccountingReport()</tspan><tspan x="1665" dy="20">-</tspan><tspan x="1680">processTerminated()</tspan><tspan x="1680" dy="20">and 15 more...</tspan></text>
<path d="M1915,4720 C1955,4740 1955,4850 1915,4870" style="stroke:#63b8ff;marker-end:url(#d)"/><text class="lb" x="1990" y="4800"><tspan x="1990">-m_pInitProcess</tspan><tspan x="1990" dy="16">-m_pParent</tspan><tspan x="1990" dy="16">-m_pVforkOwner</tspan></text></g>

<g id="n-IoBase" class="n"><rect x="220" y="2361" width="144" height="406"/><path d="M220,2383h144M220,2403h144"/><text class="tt" x="292" y="2377">IoBase</text>
<text y="2398"><tspan x="227" dy="20">+</tspan><tspan x="242">~IoBase()</tspan><tspan x="227" dy="20">+</tspan><tspan x="242">size()</tspan><tspan x="227" dy="20">+</tspan><tspan x="242">read8()</tspan><tspan x="227" dy="20">+</tspan><tspan x="242">read16()</tspan><tspan x="227" dy="20">+</tspan><tspan x="242">read32()</tspan><tspan x="227" dy="20">+</tspan><tspan x="242">read64()</tspan><tspan x="227" dy="20">+</tspan><tspan x="242">read64LowFirst()</tspan><tspan x="227" dy="20">+</tspan><tspan x="242">read64HighFirst()</tspan><tspan x="227" dy="20">+</tspan><tspan x="242">write8()</tspan><tspan x="227" dy="20">+</tspan><tspan x="242">write16()</tspan><tspan x="227" dy="20">+</tspan><tspan x="242">write32()</tspan><tspan x="227" dy="20">+</tspan><tspan x="242">write64()</tspan><tspan x="227" dy="20">+</tspan><tspan x="242">write64LowFirst()</tspan><tspan x="227" dy="20">+</tspan><tspan x="242">write64HighFirst()</tspan><tspan x="227" dy="20">+</tspan><tspan x="242">operator bool()</tspan><tspan x="227" dy="20">#</tspan><tspan x="242">IoBase()</tspan><tspan x="227" dy="20">-</tspan><tspan x="242">IoBase()</tspan><tspan x="227" dy="20">-</tspan><tspan x="242">operator=()</tspan></text></g>

<g id="n-DeviceAddress" class="n"><rect x="312" y="2940" width="119" height="230"/><path d="M312,2962h119M312,3066h119"/><text class="tt" x="371" y="2956">Device::Address</text>
<text y="2957"><tspan x="319" dy="20">+</tspan><tspan x="334">m_Address</tspan><tspan x="319" dy="20">+</tspan><tspan x="334">m_Size</tspan><tspan x="319" dy="20">+</tspan><tspan x="334">m_IsIoSpace</tspan><tspan x="319" dy="20">+</tspan><tspan x="334">m_Padding</tspan><tspan x="319" dy="20">-</tspan><tspan x="334">m_bMapped</tspan></text>
<text y="3061"><tspan x="319" dy="20">+</tspan><tspan x="334">Address()</tspan><tspan x="319" dy="20">+</tspan><tspan x="334">~Address()</tspan><tspan x="319" dy="20">+</tspan><tspan x="334">map()</tspan><tspan x="319" dy="20">-</tspan><tspan x="334">Address()</tspan><tspan x="319" dy="20">-</tspan><tspan x="334">operator=()</tspan></text></g>

<g id="n-VectorT" class="n"><rect x="454" y="2869" width="141" height="370"/><path d="M454,2891h141M454,2995h141"/><text class="tt" x="524" y="2885">Vector&lt; T &gt;</text>
<text y="2886"><tspan x="461" dy="20">-</tspan><tspan x="476">m_Size</tspan><tspan x="461" dy="20">-</tspan><tspan x="476">m_Count</tspan><tspan x="461" dy="20">-</tspan><tspan x="476">m_Start</tspan><tspan x="461" dy="20">-</tspan><tspan x="476">m_Data</tspan><tspan x="461" dy="20">-</tspan><tspan x="476">m_ReserveFactor</tspan></text>
<text y="2990"><tspan x="461" dy="20">+</tspan><tspan x="476">Vector()</tspan><tspan x="461" dy="20">+</tspan><tspan x="476">Vector()</tspan><tspan x="461" dy="20">+</tspan><tspan x="476">Vector()</tspan><tspan x="461" dy="20">+</tspan><tspan x="476">~Vector()</tspan><tspan x="461" dy="20">+</tspan><tspan x="476">operator=()</tspan><tspan x="461" dy="20">+</tspan><tspan x="476">operator[]()</tspan><tspan x="461" dy="20">+</tspan><tspan x="476">operator[]()</tspan><tspan x="461" dy="20">+</tspan><tspan x="476">size()</tspan><tspan x="461" dy="20">+</tspan><tspan x="476">count()</tspan><tspan x="461" dy="20">+</tspan><tspan x="476">pushBack()</tspan><tspan x="476" dy="20">and 25 more...</tspan><tspan x="461" dy="20">-</tspan><tspan x="476">reserve()</tspan></text></g>

<g id="n-Capability" class="n"><rect x="142" y="3269" width="136" height="106"/><path d="M142,3311h136M142,3355h136"/><text class="tt" x="210" y="3284">Virtio::PciTransport</text><text class="tt" x="210" y="3304">::Capability</text>
<text y="3306"><tspan x="162" dy="20">+</tspan><tspan x="197">offset</tspan><tspan x="162" dy="20">+</tspan><tspan x="197">length</tspan></text></g>

<g id="n-VectorDeviceAddress" class="n"><rect x="336" y="3583" width="202" height="350"/><path d="M336,3605h202M336,3689h202"/><text class="tt" x="437" y="3599">Vector&lt; Device::Address * &gt;</text>
<text y="3600"><tspan x="361" dy="20">-</tspan><tspan x="388">m_Size</tspan><tspan x="361" dy="20">-</tspan><tspan x="388">m_Count</tspan><tspan x="361" dy="20">-</tspan><tspan x="388">m_Start</tspan><tspan x="361" dy="20">-</tspan><tspan x="388">m_ReserveFactor</tspan></text>
<text y="3684"><tspan x="361" dy="20">+</tspan><tspan x="388">Vector()</tspan><tspan x="361" dy="20">+</tspan><tspan x="388">Vector()</tspan><tspan x="361" dy="20">+</tspan><tspan x="388">Vector()</tspan><tspan x="361" dy="20">+</tspan><tspan x="388">~Vector()</tspan><tspan x="361" dy="20">+</tspan><tspan x="388">operator=()</tspan><tspan x="361" dy="20">+</tspan><tspan x="388">operator[]()</tspan><tspan x="361" dy="20">+</tspan><tspan x="388">operator[]()</tspan><tspan x="361" dy="20">+</tspan><tspan x="388">size()</tspan><tspan x="361" dy="20">+</tspan><tspan x="388">count()</tspan><tspan x="361" dy="20">+</tspan><tspan x="388">pushBack()</tspan><tspan x="388" dy="20">and 25 more...</tspan><tspan x="361" dy="20">-</tspan><tspan x="388">reserve()</tspan></text></g>

<g id="n-ConfigSpace" class="n"><rect x="563" y="3624" width="144" height="266"/><path d="M563,3646h144M563,3870h144"/><text class="tt" x="635" y="3640">PciBus::ConfigSpace</text>
<text y="3641"><tspan x="570" dy="20">+</tspan><tspan x="585">vendor</tspan><tspan x="570" dy="20">+</tspan><tspan x="585">device</tspan><tspan x="570" dy="20">+</tspan><tspan x="585">command</tspan><tspan x="570" dy="20">+</tspan><tspan x="585">status</tspan><tspan x="570" dy="20">+</tspan><tspan x="585">revision</tspan><tspan x="570" dy="20">+</tspan><tspan x="585">progif</tspan><tspan x="570" dy="20">+</tspan><tspan x="585">subclass</tspan><tspan x="570" dy="20">+</tspan><tspan x="585">class_code</tspan><tspan x="570" dy="20">+</tspan><tspan x="585">cache_line_size</tspan><tspan x="570" dy="20">+</tspan><tspan x="585">latency_timer</tspan><tspan x="585" dy="20">and 13 more...</tspan></text></g>

<g id="n-VirtualAddressSpace" class="r"><rect x="834" y="3392" width="220" height="730"/><path d="M834,3414h220M834,3698h220"/><text class="tt" x="944" y="3408">VirtualAddressSpace</text>
<text y="3409"><tspan x="841" dy="20">+</tspan><tspan x="856">m_Heap</tspan><tspan x="841" dy="20">+</tspan><tspan x="856">m_HeapEnd</tspan><tspan x="841" dy="20">+</tspan><tspan x="856">KernelMode</tspan><tspan x="841" dy="20">+</tspan><tspan x="856">Write</tspan><tspan x="841" dy="20">+</tspan><tspan x="856">Execute</tspan><tspan x="841" dy="20">+</tspan><tspan x="856">WriteThrough</tspan><tspan x="841" dy="20">+</tspan><tspan x="856">CacheDisable</tspan><tspan x="841" dy="20">+</tspan><tspan x="856">CopyOnWrite</tspan><tspan x="841" dy="20">+</tspan><tspan x="856">Swapped</tspan><tspan x="841" dy="20">+</tspan><tspan x="856">Shared</tspan><tspan x="841" dy="20">+</tspan><tspan x="856">WriteCombine</tspan><tspan x="841" dy="20">+</tspan><tspan x="856">Accessed</tspan><tspan x="856" dy="20">and 8 more...</tspan><tspan x="841" dy="20">#</tspan><tspan x="856">m_HeapRegionId</tspan></text>
<text y="3693"><tspan x="841" dy="20">+</tspan><tspan x="856">rawUserMemory()</tspan><tspan x="841" dy="20">+</tspan><tspan x="856">runtimeMappingPages()</tspan><tspan x="841" dy="20">+</tspan><tspan x="856">memoryLockAccount()</tspan><tspan x="841" dy="20">+</tspan><tspan x="856">setMemoryLockAccount()</tspan><tspan x="841" dy="20">+</tspan><tspan x="856">userMemoryPolicy()</tspan><tspan x="841" dy="20">+</tspan><tspan x="856">setUserMemoryPolicy()</tspan><tspan x="841" dy="20">+</tspan><tspan x="856">expandHeap()</tspan><tspan x="841" dy="20">+</tspan><tspan x="856">isAddressValid()</tspan><tspan x="841" dy="20">+</tspan><tspan x="856">isMapped()</tspan><tspan x="841" dy="20">+</tspan><tspan x="856">map()</tspan><tspan x="856" dy="20">and 43 more...</tspan><tspan x="841" dy="20">+</tspan><tspan x="856">getKernelAddressSpace()</tspan><tspan x="841" dy="20">+</tspan><tspan x="856">create()</tspan><tspan x="841" dy="20">#</tspan><tspan x="856">admitRawMemoryChange()</tspan><tspan x="841" dy="20">#</tspan><tspan x="856">commitRawMemoryChange()</tspan><tspan x="841" dy="20">#</tspan><tspan x="856">prepareZeroPage()</tspan><tspan x="841" dy="20">#</tspan><tspan x="856">VirtualAddressSpace()</tspan><tspan x="841" dy="20">-</tspan><tspan x="856">VirtualAddressSpace()</tspan><tspan x="841" dy="20">-</tspan><tspan x="856">VirtualAddressSpace()</tspan><tspan x="841" dy="20">-</tspan><tspan x="856">operator=()</tspan><tspan x="841" dy="20">-</tspan><tspan x="856">rollbackHeapExpansion()</tspan></text></g>

<g id="n-SharedPointerVforkCompletion" class="o"><rect x="1080" y="3574" width="169" height="366"/><path d="M1080,3616h169M1080,3636h169"/><text class="tt" x="1164" y="3589">SharedPointer&lt; Process</text><text class="tt" x="1164" y="3609">::VforkCompletion &gt;</text>
<text y="3631"><tspan x="1095" dy="20">+</tspan><tspan x="1115">SharedPointer()</tspan><tspan x="1095" dy="20">+</tspan><tspan x="1115">SharedPointer()</tspan><tspan x="1095" dy="20">+</tspan><tspan x="1115">SharedPointer()</tspan><tspan x="1095" dy="20">+</tspan><tspan x="1115">SharedPointer()</tspan><tspan x="1095" dy="20">+</tspan><tspan x="1115">~SharedPointer()</tspan><tspan x="1095" dy="20">+</tspan><tspan x="1115">reset()</tspan><tspan x="1095" dy="20">+</tspan><tspan x="1115">reset()</tspan><tspan x="1095" dy="20">+</tspan><tspan x="1115">get()</tspan><tspan x="1095" dy="20">+</tspan><tspan x="1115">operator-&gt;()</tspan><tspan x="1095" dy="20">+</tspan><tspan x="1115">operator*()</tspan><tspan x="1115" dy="20">and 11 more...</tspan><tspan x="1095" dy="20">+</tspan><tspan x="1115">allocate()</tspan><tspan x="1095" dy="20">+</tspan><tspan x="1115">tryAllocate()</tspan><tspan x="1095" dy="20">+</tspan><tspan x="1115">tryAdopt()</tspan><tspan x="1095" dy="20">-</tspan><tspan x="1115">release()</tspan></text></g>

<g id="n-FilesystemContextOwner" class="r"><rect x="1323" y="3632" width="215" height="246"/><path d="M1323,3654h215M1323,3674h215"/><text class="tt" x="1430" y="3648">FilesystemContextOwner</text>
<text y="3669"><tspan x="1330" dy="20">+</tspan><tspan x="1345">FilesystemContextOwner()</tspan><tspan x="1330" dy="20">+</tspan><tspan x="1345">FilesystemContextOwner()</tspan><tspan x="1330" dy="20">+</tspan><tspan x="1345">operator=()</tspan><tspan x="1330" dy="20">+</tspan><tspan x="1345">~FilesystemContextOwner()</tspan><tspan x="1330" dy="20">+</tspan><tspan x="1345">reference()</tspan><tspan x="1330" dy="20">+</tspan><tspan x="1345">operator bool()</tspan><tspan x="1330" dy="20">+</tspan><tspan x="1345">reset()</tspan><tspan x="1330" dy="20">+</tspan><tspan x="1345">adopt()</tspan><tspan x="1330" dy="20">-</tspan><tspan x="1345">FilesystemContextOwner()</tspan><tspan x="1330" dy="20">-</tspan><tspan x="1345">operator=()</tspan></text></g>

<g id="n-VectorThread" class="n"><rect x="1614" y="3583" width="139" height="350"/><path d="M1614,3605h139M1614,3689h139"/><text class="tt" x="1683" y="3599">Vector&lt; Thread * &gt;</text>
<text y="3600"><tspan x="1621" dy="20">-</tspan><tspan x="1636">m_Size</tspan><tspan x="1621" dy="20">-</tspan><tspan x="1636">m_Count</tspan><tspan x="1621" dy="20">-</tspan><tspan x="1636">m_Start</tspan><tspan x="1621" dy="20">-</tspan><tspan x="1636">m_ReserveFactor</tspan></text>
<text y="3684"><tspan x="1621" dy="20">+</tspan><tspan x="1636">Vector()</tspan><tspan x="1621" dy="20">+</tspan><tspan x="1636">Vector()</tspan><tspan x="1621" dy="20">+</tspan><tspan x="1636">Vector()</tspan><tspan x="1621" dy="20">+</tspan><tspan x="1636">~Vector()</tspan><tspan x="1621" dy="20">+</tspan><tspan x="1636">operator=()</tspan><tspan x="1621" dy="20">+</tspan><tspan x="1636">operator[]()</tspan><tspan x="1621" dy="20">+</tspan><tspan x="1636">operator[]()</tspan><tspan x="1621" dy="20">+</tspan><tspan x="1636">size()</tspan><tspan x="1621" dy="20">+</tspan><tspan x="1636">count()</tspan><tspan x="1621" dy="20">+</tspan><tspan x="1636">pushBack()</tspan><tspan x="1636" dy="20">and 25 more...</tspan><tspan x="1621" dy="20">-</tspan><tspan x="1636">reserve()</tspan></text></g>

<g id="n-SharedPointerControllingTerminal" class="o"><rect x="1829" y="3574" width="170" height="366"/><path d="M1829,3616h170M1829,3636h170"/><text class="tt" x="1914" y="3589">SharedPointer&lt; Process</text><text class="tt" x="1914" y="3609">::ControllingTerminal &gt;</text>
<text y="3631"><tspan x="1844" dy="20">+</tspan><tspan x="1864">SharedPointer()</tspan><tspan x="1844" dy="20">+</tspan><tspan x="1864">SharedPointer()</tspan><tspan x="1844" dy="20">+</tspan><tspan x="1864">SharedPointer()</tspan><tspan x="1844" dy="20">+</tspan><tspan x="1864">SharedPointer()</tspan><tspan x="1844" dy="20">+</tspan><tspan x="1864">~SharedPointer()</tspan><tspan x="1844" dy="20">+</tspan><tspan x="1864">reset()</tspan><tspan x="1844" dy="20">+</tspan><tspan x="1864">reset()</tspan><tspan x="1844" dy="20">+</tspan><tspan x="1864">get()</tspan><tspan x="1844" dy="20">+</tspan><tspan x="1864">operator-&gt;()</tspan><tspan x="1844" dy="20">+</tspan><tspan x="1864">operator*()</tspan><tspan x="1864" dy="20">and 11 more...</tspan><tspan x="1844" dy="20">+</tspan><tspan x="1864">allocate()</tspan><tspan x="1844" dy="20">+</tspan><tspan x="1864">tryAllocate()</tspan><tspan x="1844" dy="20">+</tspan><tspan x="1864">tryAdopt()</tspan><tspan x="1844" dy="20">-</tspan><tspan x="1864">release()</tspan></text></g>
</svg>
